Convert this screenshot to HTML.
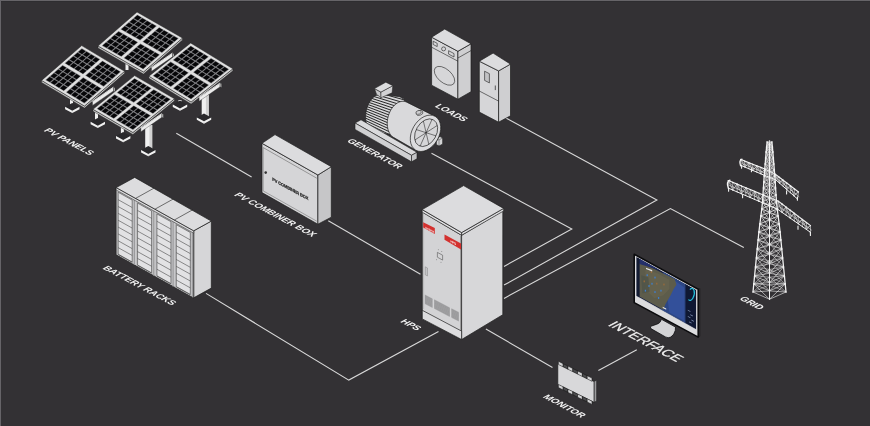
<!DOCTYPE html>
<html><head><meta charset="utf-8"><style>
html,body{margin:0;padding:0;background:#333134;width:870px;height:426px;overflow:hidden}
svg{display:block;will-change:transform}
text{font-family:"Liberation Sans",sans-serif}
</style></head><body>
<svg width="870" height="426" viewBox="0 0 870 426">
<rect width="870" height="426" fill="#333134"/>
<rect x="0" y="0" width="870" height="1" fill="#666468"/>
<rect x="0" y="0" width="1" height="426" fill="#666468"/>
<rect x="1" y="1" width="869" height="1" fill="#2e2d30"/>
<line x1="176.3" y1="133.3" x2="251.6" y2="177" stroke="#d8d8d8" stroke-width="1.1" />
<line x1="328.3" y1="220.8" x2="420.5" y2="274.2" stroke="#d8d8d8" stroke-width="1.1" />
<polyline points="206,293.4 348.8,380.1 438.5,331.4" fill="none" stroke="#d8d8d8" stroke-width="1.1" stroke-linejoin="miter" />
<polyline points="431.5,153.3 571.8,229 504,266.4" fill="none" stroke="#d8d8d8" stroke-width="1.1" stroke-linejoin="miter" />
<polyline points="505.3,117.7 656.9,199.9 504,285.1" fill="none" stroke="#d8d8d8" stroke-width="1.1" stroke-linejoin="miter" />
<polyline points="504,298.4 670.4,208.6 743.8,247.6" fill="none" stroke="#d8d8d8" stroke-width="1.1" stroke-linejoin="miter" />
<line x1="485.9" y1="329" x2="552.5" y2="367.5" stroke="#d8d8d8" stroke-width="1.1" />
<line x1="598.4" y1="370.4" x2="636.8" y2="349.7" stroke="#d8d8d8" stroke-width="1.1" />
<polygon points="125.5,60 128.5,60 128.5,70 125.5,70" fill="#f0f0f0" stroke="none" stroke-width="0" stroke-linejoin="round" />
<polygon points="98,46 143.5,72 182.5,38 182.5,40 143.5,74 98,48" fill="#c4c4c4" stroke="#1c1c1c" stroke-width="0.4" stroke-linejoin="round" />
<polygon points="137,12 182.5,38 143.5,72 98,46" fill="#e0e0e0" stroke="#1c1c1c" stroke-width="0.5" stroke-linejoin="round" />
<polygon points="137.29,14.7 156.86,25.88 140.09,40.5 120.52,29.32" fill="#808084" stroke="none" stroke-width="0" stroke-linejoin="round" />
<polygon points="137.36,15.33 141.29,17.58 137.93,20.52 133.99,18.27" fill="#060608" stroke="none" stroke-width="0" stroke-linejoin="round" />
<polygon points="133.16,18.99 137.1,21.24 133.74,24.17 129.8,21.92" fill="#060608" stroke="none" stroke-width="0" stroke-linejoin="round" />
<polygon points="128.97,22.64 132.91,24.89 129.54,27.83 125.61,25.58" fill="#060608" stroke="none" stroke-width="0" stroke-linejoin="round" />
<polygon points="124.78,26.3 128.71,28.55 125.35,31.48 121.41,29.23" fill="#060608" stroke="none" stroke-width="0" stroke-linejoin="round" />
<polygon points="142.25,18.13 146.18,20.38 142.82,23.31 138.88,21.06" fill="#060608" stroke="none" stroke-width="0" stroke-linejoin="round" />
<polygon points="138.05,21.78 141.99,24.03 138.63,26.97 134.69,24.72" fill="#060608" stroke="none" stroke-width="0" stroke-linejoin="round" />
<polygon points="133.86,25.44 137.8,27.69 134.43,30.62 130.5,28.37" fill="#060608" stroke="none" stroke-width="0" stroke-linejoin="round" />
<polygon points="129.67,29.09 133.61,31.34 130.24,34.28 126.31,32.03" fill="#060608" stroke="none" stroke-width="0" stroke-linejoin="round" />
<polygon points="147.14,20.92 151.07,23.17 147.71,26.11 143.77,23.86" fill="#060608" stroke="none" stroke-width="0" stroke-linejoin="round" />
<polygon points="142.95,24.58 146.88,26.83 143.52,29.76 139.58,27.51" fill="#060608" stroke="none" stroke-width="0" stroke-linejoin="round" />
<polygon points="138.75,28.23 142.69,30.48 139.33,33.42 135.39,31.17" fill="#060608" stroke="none" stroke-width="0" stroke-linejoin="round" />
<polygon points="134.56,31.89 138.5,34.14 135.13,37.07 131.2,34.82" fill="#060608" stroke="none" stroke-width="0" stroke-linejoin="round" />
<polygon points="152.03,23.72 155.97,25.97 152.6,28.9 148.67,26.65" fill="#060608" stroke="none" stroke-width="0" stroke-linejoin="round" />
<polygon points="147.84,27.37 151.77,29.62 148.41,32.56 144.47,30.31" fill="#060608" stroke="none" stroke-width="0" stroke-linejoin="round" />
<polygon points="143.64,31.03 147.58,33.28 144.22,36.21 140.28,33.96" fill="#060608" stroke="none" stroke-width="0" stroke-linejoin="round" />
<polygon points="139.45,34.68 143.39,36.93 140.02,39.87 136.09,37.62" fill="#060608" stroke="none" stroke-width="0" stroke-linejoin="round" />
<polygon points="118.57,31.02 138.14,42.2 121.37,56.82 101.8,45.64" fill="#808084" stroke="none" stroke-width="0" stroke-linejoin="round" />
<polygon points="118.64,31.65 122.57,33.9 119.21,36.84 115.27,34.59" fill="#060608" stroke="none" stroke-width="0" stroke-linejoin="round" />
<polygon points="114.44,35.31 118.38,37.56 115.02,40.49 111.08,38.24" fill="#060608" stroke="none" stroke-width="0" stroke-linejoin="round" />
<polygon points="110.25,38.96 114.19,41.21 110.82,44.15 106.89,41.9" fill="#060608" stroke="none" stroke-width="0" stroke-linejoin="round" />
<polygon points="106.06,42.62 109.99,44.87 106.63,47.8 102.69,45.55" fill="#060608" stroke="none" stroke-width="0" stroke-linejoin="round" />
<polygon points="123.53,34.45 127.46,36.7 124.1,39.63 120.16,37.38" fill="#060608" stroke="none" stroke-width="0" stroke-linejoin="round" />
<polygon points="119.33,38.1 123.27,40.35 119.91,43.29 115.97,41.04" fill="#060608" stroke="none" stroke-width="0" stroke-linejoin="round" />
<polygon points="115.14,41.76 119.08,44.01 115.71,46.94 111.78,44.69" fill="#060608" stroke="none" stroke-width="0" stroke-linejoin="round" />
<polygon points="110.95,45.41 114.89,47.66 111.52,50.6 107.59,48.35" fill="#060608" stroke="none" stroke-width="0" stroke-linejoin="round" />
<polygon points="128.42,37.24 132.35,39.49 128.99,42.43 125.05,40.18" fill="#060608" stroke="none" stroke-width="0" stroke-linejoin="round" />
<polygon points="124.23,40.9 128.16,43.15 124.8,46.08 120.86,43.83" fill="#060608" stroke="none" stroke-width="0" stroke-linejoin="round" />
<polygon points="120.03,44.55 123.97,46.8 120.61,49.74 116.67,47.49" fill="#060608" stroke="none" stroke-width="0" stroke-linejoin="round" />
<polygon points="115.84,48.21 119.78,50.46 116.41,53.39 112.48,51.14" fill="#060608" stroke="none" stroke-width="0" stroke-linejoin="round" />
<polygon points="133.31,40.04 137.25,42.29 133.88,45.22 129.95,42.97" fill="#060608" stroke="none" stroke-width="0" stroke-linejoin="round" />
<polygon points="129.12,43.69 133.05,45.94 129.69,48.88 125.75,46.63" fill="#060608" stroke="none" stroke-width="0" stroke-linejoin="round" />
<polygon points="124.92,47.35 128.86,49.6 125.5,52.53 121.56,50.28" fill="#060608" stroke="none" stroke-width="0" stroke-linejoin="round" />
<polygon points="120.73,51 124.67,53.25 121.3,56.19 117.37,53.94" fill="#060608" stroke="none" stroke-width="0" stroke-linejoin="round" />
<polygon points="159.13,27.18 178.7,38.36 161.93,52.98 142.36,41.8" fill="#808084" stroke="none" stroke-width="0" stroke-linejoin="round" />
<polygon points="159.2,27.81 163.13,30.06 159.77,33 155.83,30.75" fill="#060608" stroke="none" stroke-width="0" stroke-linejoin="round" />
<polygon points="155,31.47 158.94,33.72 155.58,36.65 151.64,34.4" fill="#060608" stroke="none" stroke-width="0" stroke-linejoin="round" />
<polygon points="150.81,35.12 154.75,37.37 151.38,40.31 147.45,38.06" fill="#060608" stroke="none" stroke-width="0" stroke-linejoin="round" />
<polygon points="146.62,38.78 150.55,41.03 147.19,43.96 143.25,41.71" fill="#060608" stroke="none" stroke-width="0" stroke-linejoin="round" />
<polygon points="164.09,30.61 168.02,32.86 164.66,35.79 160.72,33.54" fill="#060608" stroke="none" stroke-width="0" stroke-linejoin="round" />
<polygon points="159.89,34.26 163.83,36.51 160.47,39.45 156.53,37.2" fill="#060608" stroke="none" stroke-width="0" stroke-linejoin="round" />
<polygon points="155.7,37.92 159.64,40.17 156.27,43.1 152.34,40.85" fill="#060608" stroke="none" stroke-width="0" stroke-linejoin="round" />
<polygon points="151.51,41.57 155.45,43.82 152.08,46.76 148.15,44.51" fill="#060608" stroke="none" stroke-width="0" stroke-linejoin="round" />
<polygon points="168.98,33.4 172.91,35.65 169.55,38.59 165.61,36.34" fill="#060608" stroke="none" stroke-width="0" stroke-linejoin="round" />
<polygon points="164.79,37.06 168.72,39.31 165.36,42.24 161.42,39.99" fill="#060608" stroke="none" stroke-width="0" stroke-linejoin="round" />
<polygon points="160.59,40.71 164.53,42.96 161.17,45.9 157.23,43.65" fill="#060608" stroke="none" stroke-width="0" stroke-linejoin="round" />
<polygon points="156.4,44.37 160.34,46.62 156.97,49.55 153.04,47.3" fill="#060608" stroke="none" stroke-width="0" stroke-linejoin="round" />
<polygon points="173.87,36.2 177.81,38.45 174.44,41.38 170.51,39.13" fill="#060608" stroke="none" stroke-width="0" stroke-linejoin="round" />
<polygon points="169.68,39.85 173.61,42.1 170.25,45.04 166.31,42.79" fill="#060608" stroke="none" stroke-width="0" stroke-linejoin="round" />
<polygon points="165.48,43.51 169.42,45.76 166.06,48.69 162.12,46.44" fill="#060608" stroke="none" stroke-width="0" stroke-linejoin="round" />
<polygon points="161.29,47.16 165.23,49.41 161.86,52.35 157.93,50.1" fill="#060608" stroke="none" stroke-width="0" stroke-linejoin="round" />
<polygon points="140.41,43.5 159.98,54.68 143.21,69.3 123.64,58.12" fill="#808084" stroke="none" stroke-width="0" stroke-linejoin="round" />
<polygon points="140.48,44.13 144.41,46.38 141.05,49.32 137.11,47.07" fill="#060608" stroke="none" stroke-width="0" stroke-linejoin="round" />
<polygon points="136.28,47.79 140.22,50.04 136.86,52.97 132.92,50.72" fill="#060608" stroke="none" stroke-width="0" stroke-linejoin="round" />
<polygon points="132.09,51.44 136.03,53.69 132.66,56.63 128.73,54.38" fill="#060608" stroke="none" stroke-width="0" stroke-linejoin="round" />
<polygon points="127.9,55.1 131.83,57.35 128.47,60.28 124.53,58.03" fill="#060608" stroke="none" stroke-width="0" stroke-linejoin="round" />
<polygon points="145.37,46.93 149.3,49.18 145.94,52.11 142,49.86" fill="#060608" stroke="none" stroke-width="0" stroke-linejoin="round" />
<polygon points="141.17,50.58 145.11,52.83 141.75,55.77 137.81,53.52" fill="#060608" stroke="none" stroke-width="0" stroke-linejoin="round" />
<polygon points="136.98,54.24 140.92,56.49 137.55,59.42 133.62,57.17" fill="#060608" stroke="none" stroke-width="0" stroke-linejoin="round" />
<polygon points="132.79,57.89 136.73,60.14 133.36,63.08 129.43,60.83" fill="#060608" stroke="none" stroke-width="0" stroke-linejoin="round" />
<polygon points="150.26,49.72 154.19,51.97 150.83,54.91 146.89,52.66" fill="#060608" stroke="none" stroke-width="0" stroke-linejoin="round" />
<polygon points="146.07,53.38 150,55.63 146.64,58.56 142.7,56.31" fill="#060608" stroke="none" stroke-width="0" stroke-linejoin="round" />
<polygon points="141.87,57.03 145.81,59.28 142.45,62.22 138.51,59.97" fill="#060608" stroke="none" stroke-width="0" stroke-linejoin="round" />
<polygon points="137.68,60.69 141.62,62.94 138.25,65.87 134.32,63.62" fill="#060608" stroke="none" stroke-width="0" stroke-linejoin="round" />
<polygon points="155.15,52.52 159.09,54.77 155.72,57.7 151.79,55.45" fill="#060608" stroke="none" stroke-width="0" stroke-linejoin="round" />
<polygon points="150.96,56.17 154.89,58.42 151.53,61.36 147.59,59.11" fill="#060608" stroke="none" stroke-width="0" stroke-linejoin="round" />
<polygon points="146.76,59.83 150.7,62.08 147.34,65.01 143.4,62.76" fill="#060608" stroke="none" stroke-width="0" stroke-linejoin="round" />
<polygon points="142.57,63.48 146.51,65.73 143.14,68.67 139.21,66.42" fill="#060608" stroke="none" stroke-width="0" stroke-linejoin="round" />
<polygon points="151.5,67.5 172.5,53 172.5,56.8 151.5,71.3" fill="#ececec" stroke="#2a2a2a" stroke-width="0.35" stroke-linejoin="round" />
<line x1="151.5" y1="67.5" x2="172.5" y2="53" stroke="#f4f4f4" stroke-width="0.8" />
<polygon points="172.5,53 174,53.8 174,57.6 172.5,56.8" fill="#bdbdbd" stroke="#1c1c1c" stroke-width="0.3" stroke-linejoin="round" />
<polygon points="70,95 73,95 73,106 70,106" fill="#f0f0f0" stroke="none" stroke-width="0" stroke-linejoin="round" />
<polygon points="65.1,106.8 72.3,102.9 79.5,106.8 72.3,110.7" fill="#29282b" stroke="none" stroke-width="0" stroke-linejoin="round" />
<polygon points="65.1,106.8 72.3,110.7 79.5,106.8 79.5,109.2 72.3,113.1 65.1,109.2" fill="#f2f2f2" stroke="none" stroke-width="0" stroke-linejoin="round" />
<line x1="72.3" y1="110.7" x2="72.3" y2="113.1" stroke="#bdbdbd" stroke-width="0.5" />
<polygon points="41.6,80.4 84.5,106.1 124.6,71.3 124.6,73.3 84.5,108.1 41.6,82.4" fill="#c4c4c4" stroke="#1c1c1c" stroke-width="0.4" stroke-linejoin="round" />
<polygon points="81.7,45.6 124.6,71.3 84.5,106.1 41.6,80.4" fill="#e0e0e0" stroke="#1c1c1c" stroke-width="0.5" stroke-linejoin="round" />
<polygon points="81.83,48.32 100.27,59.37 83.03,74.34 64.58,63.29" fill="#808084" stroke="none" stroke-width="0" stroke-linejoin="round" />
<polygon points="81.88,48.97 85.55,51.16 82.07,54.18 78.4,51.99" fill="#060608" stroke="none" stroke-width="0" stroke-linejoin="round" />
<polygon points="77.57,52.71 81.24,54.9 77.76,57.92 74.09,55.73" fill="#060608" stroke="none" stroke-width="0" stroke-linejoin="round" />
<polygon points="73.26,56.45 76.93,58.65 73.45,61.67 69.78,59.47" fill="#060608" stroke="none" stroke-width="0" stroke-linejoin="round" />
<polygon points="68.95,60.19 72.62,62.39 69.14,65.41 65.47,63.21" fill="#060608" stroke="none" stroke-width="0" stroke-linejoin="round" />
<polygon points="86.49,51.73 90.16,53.93 86.68,56.95 83.01,54.75" fill="#060608" stroke="none" stroke-width="0" stroke-linejoin="round" />
<polygon points="82.18,55.47 85.85,57.67 82.37,60.69 78.7,58.49" fill="#060608" stroke="none" stroke-width="0" stroke-linejoin="round" />
<polygon points="77.87,59.21 81.54,61.41 78.06,64.43 74.39,62.23" fill="#060608" stroke="none" stroke-width="0" stroke-linejoin="round" />
<polygon points="73.56,62.95 77.23,65.15 73.75,68.17 70.08,65.97" fill="#060608" stroke="none" stroke-width="0" stroke-linejoin="round" />
<polygon points="91.11,54.49 94.77,56.69 91.29,59.71 87.63,57.51" fill="#060608" stroke="none" stroke-width="0" stroke-linejoin="round" />
<polygon points="86.8,58.23 90.46,60.43 86.98,63.45 83.32,61.25" fill="#060608" stroke="none" stroke-width="0" stroke-linejoin="round" />
<polygon points="82.48,61.97 86.15,64.17 82.67,67.19 79,64.99" fill="#060608" stroke="none" stroke-width="0" stroke-linejoin="round" />
<polygon points="78.17,65.71 81.84,67.91 78.36,70.93 74.69,68.73" fill="#060608" stroke="none" stroke-width="0" stroke-linejoin="round" />
<polygon points="95.72,57.25 99.39,59.45 95.91,62.47 92.24,60.27" fill="#060608" stroke="none" stroke-width="0" stroke-linejoin="round" />
<polygon points="91.41,60.99 95.08,63.19 91.6,66.21 87.93,64.01" fill="#060608" stroke="none" stroke-width="0" stroke-linejoin="round" />
<polygon points="87.1,64.74 90.76,66.93 87.28,69.95 83.62,67.76" fill="#060608" stroke="none" stroke-width="0" stroke-linejoin="round" />
<polygon points="82.79,68.48 86.45,70.67 82.97,73.69 79.31,71.5" fill="#060608" stroke="none" stroke-width="0" stroke-linejoin="round" />
<polygon points="62.58,65.03 81.03,76.08 63.78,91.04 45.34,79.99" fill="#808084" stroke="none" stroke-width="0" stroke-linejoin="round" />
<polygon points="62.63,65.67 66.3,67.87 62.82,70.89 59.15,68.69" fill="#060608" stroke="none" stroke-width="0" stroke-linejoin="round" />
<polygon points="58.32,69.41 61.99,71.61 58.51,74.63 54.84,72.43" fill="#060608" stroke="none" stroke-width="0" stroke-linejoin="round" />
<polygon points="54.01,73.15 57.68,75.35 54.2,78.37 50.53,76.17" fill="#060608" stroke="none" stroke-width="0" stroke-linejoin="round" />
<polygon points="49.7,76.89 53.37,79.09 49.89,82.11 46.22,79.91" fill="#060608" stroke="none" stroke-width="0" stroke-linejoin="round" />
<polygon points="67.25,68.43 70.91,70.63 67.43,73.65 63.77,71.45" fill="#060608" stroke="none" stroke-width="0" stroke-linejoin="round" />
<polygon points="62.94,72.17 66.6,74.37 63.12,77.39 59.46,75.19" fill="#060608" stroke="none" stroke-width="0" stroke-linejoin="round" />
<polygon points="58.62,75.91 62.29,78.11 58.81,81.13 55.14,78.93" fill="#060608" stroke="none" stroke-width="0" stroke-linejoin="round" />
<polygon points="54.31,79.66 57.98,81.85 54.5,84.87 50.83,82.68" fill="#060608" stroke="none" stroke-width="0" stroke-linejoin="round" />
<polygon points="71.86,71.2 75.53,73.39 72.05,76.41 68.38,74.22" fill="#060608" stroke="none" stroke-width="0" stroke-linejoin="round" />
<polygon points="67.55,74.94 71.22,77.13 67.74,80.15 64.07,77.96" fill="#060608" stroke="none" stroke-width="0" stroke-linejoin="round" />
<polygon points="63.24,78.68 66.9,80.87 63.42,83.89 59.76,81.7" fill="#060608" stroke="none" stroke-width="0" stroke-linejoin="round" />
<polygon points="58.93,82.42 62.59,84.62 59.11,87.64 55.45,85.44" fill="#060608" stroke="none" stroke-width="0" stroke-linejoin="round" />
<polygon points="76.47,73.96 80.14,76.16 76.66,79.18 72.99,76.98" fill="#060608" stroke="none" stroke-width="0" stroke-linejoin="round" />
<polygon points="72.16,77.7 75.83,79.9 72.35,82.92 68.68,80.72" fill="#060608" stroke="none" stroke-width="0" stroke-linejoin="round" />
<polygon points="67.85,81.44 71.52,83.64 68.04,86.66 64.37,84.46" fill="#060608" stroke="none" stroke-width="0" stroke-linejoin="round" />
<polygon points="63.54,85.18 67.21,87.38 63.73,90.4 60.06,88.2" fill="#060608" stroke="none" stroke-width="0" stroke-linejoin="round" />
<polygon points="102.42,60.66 120.86,71.71 103.62,86.67 85.17,75.62" fill="#808084" stroke="none" stroke-width="0" stroke-linejoin="round" />
<polygon points="102.47,61.3 106.14,63.5 102.66,66.52 98.99,64.32" fill="#060608" stroke="none" stroke-width="0" stroke-linejoin="round" />
<polygon points="98.16,65.04 101.83,67.24 98.35,70.26 94.68,68.06" fill="#060608" stroke="none" stroke-width="0" stroke-linejoin="round" />
<polygon points="93.85,68.78 97.52,70.98 94.04,74 90.37,71.8" fill="#060608" stroke="none" stroke-width="0" stroke-linejoin="round" />
<polygon points="89.54,72.52 93.21,74.72 89.73,77.74 86.06,75.54" fill="#060608" stroke="none" stroke-width="0" stroke-linejoin="round" />
<polygon points="107.09,64.06 110.75,66.26 107.27,69.28 103.61,67.08" fill="#060608" stroke="none" stroke-width="0" stroke-linejoin="round" />
<polygon points="102.78,67.81 106.44,70 102.96,73.02 99.3,70.83" fill="#060608" stroke="none" stroke-width="0" stroke-linejoin="round" />
<polygon points="98.46,71.55 102.13,73.74 98.65,76.76 94.98,74.57" fill="#060608" stroke="none" stroke-width="0" stroke-linejoin="round" />
<polygon points="94.15,75.29 97.82,77.48 94.34,80.5 90.67,78.31" fill="#060608" stroke="none" stroke-width="0" stroke-linejoin="round" />
<polygon points="111.7,66.83 115.37,69.02 111.89,72.04 108.22,69.85" fill="#060608" stroke="none" stroke-width="0" stroke-linejoin="round" />
<polygon points="107.39,70.57 111.06,72.77 107.58,75.79 103.91,73.59" fill="#060608" stroke="none" stroke-width="0" stroke-linejoin="round" />
<polygon points="103.08,74.31 106.74,76.51 103.26,79.53 99.6,77.33" fill="#060608" stroke="none" stroke-width="0" stroke-linejoin="round" />
<polygon points="98.77,78.05 102.43,80.25 98.95,83.27 95.29,81.07" fill="#060608" stroke="none" stroke-width="0" stroke-linejoin="round" />
<polygon points="116.31,69.59 119.98,71.79 116.5,74.81 112.83,72.61" fill="#060608" stroke="none" stroke-width="0" stroke-linejoin="round" />
<polygon points="112,73.33 115.67,75.53 112.19,78.55 108.52,76.35" fill="#060608" stroke="none" stroke-width="0" stroke-linejoin="round" />
<polygon points="107.69,77.07 111.36,79.27 107.88,82.29 104.21,80.09" fill="#060608" stroke="none" stroke-width="0" stroke-linejoin="round" />
<polygon points="103.38,80.81 107.05,83.01 103.57,86.03 99.9,83.83" fill="#060608" stroke="none" stroke-width="0" stroke-linejoin="round" />
<polygon points="83.17,77.36 101.62,88.41 84.37,103.38 65.93,92.33" fill="#808084" stroke="none" stroke-width="0" stroke-linejoin="round" />
<polygon points="83.23,78.01 86.89,80.2 83.41,83.22 79.75,81.03" fill="#060608" stroke="none" stroke-width="0" stroke-linejoin="round" />
<polygon points="78.92,81.75 82.58,83.94 79.1,86.96 75.44,84.77" fill="#060608" stroke="none" stroke-width="0" stroke-linejoin="round" />
<polygon points="74.6,85.49 78.27,87.69 74.79,90.71 71.12,88.51" fill="#060608" stroke="none" stroke-width="0" stroke-linejoin="round" />
<polygon points="70.29,89.23 73.96,91.43 70.48,94.45 66.81,92.25" fill="#060608" stroke="none" stroke-width="0" stroke-linejoin="round" />
<polygon points="87.84,80.77 91.51,82.97 88.03,85.99 84.36,83.79" fill="#060608" stroke="none" stroke-width="0" stroke-linejoin="round" />
<polygon points="83.53,84.51 87.2,86.71 83.72,89.73 80.05,87.53" fill="#060608" stroke="none" stroke-width="0" stroke-linejoin="round" />
<polygon points="79.22,88.25 82.88,90.45 79.4,93.47 75.74,91.27" fill="#060608" stroke="none" stroke-width="0" stroke-linejoin="round" />
<polygon points="74.91,91.99 78.57,94.19 75.09,97.21 71.43,95.01" fill="#060608" stroke="none" stroke-width="0" stroke-linejoin="round" />
<polygon points="92.45,83.53 96.12,85.73 92.64,88.75 88.97,86.55" fill="#060608" stroke="none" stroke-width="0" stroke-linejoin="round" />
<polygon points="88.14,87.27 91.81,89.47 88.33,92.49 84.66,90.29" fill="#060608" stroke="none" stroke-width="0" stroke-linejoin="round" />
<polygon points="83.83,91.01 87.5,93.21 84.02,96.23 80.35,94.03" fill="#060608" stroke="none" stroke-width="0" stroke-linejoin="round" />
<polygon points="79.52,94.75 83.19,96.95 79.71,99.97 76.04,97.77" fill="#060608" stroke="none" stroke-width="0" stroke-linejoin="round" />
<polygon points="97.06,86.29 100.73,88.49 97.25,91.51 93.58,89.31" fill="#060608" stroke="none" stroke-width="0" stroke-linejoin="round" />
<polygon points="92.75,90.03 96.42,92.23 92.94,95.25 89.27,93.05" fill="#060608" stroke="none" stroke-width="0" stroke-linejoin="round" />
<polygon points="88.44,93.78 92.11,95.97 88.63,98.99 84.96,96.8" fill="#060608" stroke="none" stroke-width="0" stroke-linejoin="round" />
<polygon points="84.13,97.52 87.8,99.71 84.32,102.73 80.65,100.54" fill="#060608" stroke="none" stroke-width="0" stroke-linejoin="round" />
<polygon points="92.5,101.6 113.5,87.1 113.5,90.9 92.5,105.4" fill="#ececec" stroke="#2a2a2a" stroke-width="0.35" stroke-linejoin="round" />
<line x1="92.5" y1="101.6" x2="113.5" y2="87.1" stroke="#f4f4f4" stroke-width="0.8" />
<polygon points="113.5,87.1 115,87.9 115,91.7 113.5,90.9" fill="#bdbdbd" stroke="#1c1c1c" stroke-width="0.3" stroke-linejoin="round" />
<polygon points="178.5,100 181.5,100 181.5,104 178.5,104" fill="#f0f0f0" stroke="none" stroke-width="0" stroke-linejoin="round" />
<polygon points="172.8,104.5 180,100.6 187.2,104.5 180,108.4" fill="#29282b" stroke="none" stroke-width="0" stroke-linejoin="round" />
<polygon points="172.8,104.5 180,108.4 187.2,104.5 187.2,106.9 180,110.8 172.8,106.9" fill="#f2f2f2" stroke="none" stroke-width="0" stroke-linejoin="round" />
<line x1="180" y1="108.4" x2="180" y2="110.8" stroke="#bdbdbd" stroke-width="0.5" />
<polygon points="201.7,95 208.7,95 208.7,118 201.7,118" fill="#f0f0f0" stroke="none" stroke-width="0" stroke-linejoin="round" />
<polygon points="205.9,95 208.7,95 208.7,118 205.9,118" fill="#d2d2d2" stroke="none" stroke-width="0" stroke-linejoin="round" />
<polygon points="196.8,117.4 204,113.5 211.2,117.4 204,121.3" fill="#29282b" stroke="none" stroke-width="0" stroke-linejoin="round" />
<polygon points="196.8,117.4 204,121.3 211.2,117.4 211.2,119.8 204,123.7 196.8,119.8" fill="#f2f2f2" stroke="none" stroke-width="0" stroke-linejoin="round" />
<line x1="204" y1="121.3" x2="204" y2="123.7" stroke="#bdbdbd" stroke-width="0.5" />
<polygon points="148.9,76.2 191.1,102 232.9,68.8 232.9,70.8 191.1,104 148.9,78.2" fill="#c4c4c4" stroke="#1c1c1c" stroke-width="0.4" stroke-linejoin="round" />
<polygon points="190.7,43 232.9,68.8 191.1,102 148.9,76.2" fill="#e0e0e0" stroke="#1c1c1c" stroke-width="0.5" stroke-linejoin="round" />
<polygon points="190.72,45.66 208.86,56.75 190.89,71.02 172.74,59.93" fill="#808084" stroke="none" stroke-width="0" stroke-linejoin="round" />
<polygon points="190.76,46.28 194.35,48.48 190.72,51.37 187.12,49.17" fill="#060608" stroke="none" stroke-width="0" stroke-linejoin="round" />
<polygon points="186.26,49.85 189.86,52.05 186.23,54.94 182.63,52.74" fill="#060608" stroke="none" stroke-width="0" stroke-linejoin="round" />
<polygon points="181.77,53.42 185.37,55.62 181.74,58.51 178.14,56.31" fill="#060608" stroke="none" stroke-width="0" stroke-linejoin="round" />
<polygon points="177.28,56.99 180.87,59.19 177.24,62.08 173.64,59.88" fill="#060608" stroke="none" stroke-width="0" stroke-linejoin="round" />
<polygon points="195.29,49.06 198.89,51.26 195.26,54.14 191.66,51.94" fill="#060608" stroke="none" stroke-width="0" stroke-linejoin="round" />
<polygon points="190.8,52.63 194.4,54.83 190.77,57.71 187.17,55.51" fill="#060608" stroke="none" stroke-width="0" stroke-linejoin="round" />
<polygon points="186.31,56.2 189.9,58.4 186.27,61.28 182.67,59.08" fill="#060608" stroke="none" stroke-width="0" stroke-linejoin="round" />
<polygon points="181.81,59.76 185.41,61.96 181.78,64.85 178.18,62.65" fill="#060608" stroke="none" stroke-width="0" stroke-linejoin="round" />
<polygon points="199.83,51.83 203.43,54.03 199.8,56.92 196.2,54.72" fill="#060608" stroke="none" stroke-width="0" stroke-linejoin="round" />
<polygon points="195.34,55.4 198.93,57.6 195.3,60.48 191.7,58.28" fill="#060608" stroke="none" stroke-width="0" stroke-linejoin="round" />
<polygon points="190.84,58.97 194.44,61.17 190.81,64.05 187.21,61.85" fill="#060608" stroke="none" stroke-width="0" stroke-linejoin="round" />
<polygon points="186.35,62.54 189.95,64.74 186.31,67.62 182.72,65.42" fill="#060608" stroke="none" stroke-width="0" stroke-linejoin="round" />
<polygon points="204.37,54.6 207.96,56.8 204.33,59.69 200.73,57.49" fill="#060608" stroke="none" stroke-width="0" stroke-linejoin="round" />
<polygon points="199.87,58.17 203.47,60.37 199.84,63.26 196.24,61.06" fill="#060608" stroke="none" stroke-width="0" stroke-linejoin="round" />
<polygon points="195.38,61.74 198.98,63.94 195.34,66.83 191.75,64.63" fill="#060608" stroke="none" stroke-width="0" stroke-linejoin="round" />
<polygon points="190.89,65.31 194.48,67.51 190.85,70.4 187.25,68.2" fill="#060608" stroke="none" stroke-width="0" stroke-linejoin="round" />
<polygon points="170.65,61.59 188.8,72.69 170.83,86.96 152.68,75.87" fill="#808084" stroke="none" stroke-width="0" stroke-linejoin="round" />
<polygon points="170.69,62.22 174.29,64.42 170.66,67.3 167.06,65.1" fill="#060608" stroke="none" stroke-width="0" stroke-linejoin="round" />
<polygon points="166.2,65.79 169.8,67.99 166.16,70.87 162.57,68.67" fill="#060608" stroke="none" stroke-width="0" stroke-linejoin="round" />
<polygon points="161.71,69.36 165.3,71.56 161.67,74.44 158.07,72.24" fill="#060608" stroke="none" stroke-width="0" stroke-linejoin="round" />
<polygon points="157.21,72.93 160.81,75.13 157.18,78.01 153.58,75.81" fill="#060608" stroke="none" stroke-width="0" stroke-linejoin="round" />
<polygon points="175.23,64.99 178.83,67.19 175.19,70.08 171.6,67.88" fill="#060608" stroke="none" stroke-width="0" stroke-linejoin="round" />
<polygon points="170.74,68.56 174.33,70.76 170.7,73.65 167.1,71.45" fill="#060608" stroke="none" stroke-width="0" stroke-linejoin="round" />
<polygon points="166.24,72.13 169.84,74.33 166.21,77.22 162.61,75.02" fill="#060608" stroke="none" stroke-width="0" stroke-linejoin="round" />
<polygon points="161.75,75.7 165.35,77.9 161.71,80.79 158.12,78.59" fill="#060608" stroke="none" stroke-width="0" stroke-linejoin="round" />
<polygon points="179.77,67.77 183.36,69.97 179.73,72.85 176.13,70.65" fill="#060608" stroke="none" stroke-width="0" stroke-linejoin="round" />
<polygon points="175.27,71.34 178.87,73.54 175.24,76.42 171.64,74.22" fill="#060608" stroke="none" stroke-width="0" stroke-linejoin="round" />
<polygon points="170.78,74.9 174.38,77.1 170.74,79.99 167.15,77.79" fill="#060608" stroke="none" stroke-width="0" stroke-linejoin="round" />
<polygon points="166.29,78.47 169.88,80.67 166.25,83.56 162.65,81.36" fill="#060608" stroke="none" stroke-width="0" stroke-linejoin="round" />
<polygon points="184.3,70.54 187.9,72.74 184.27,75.63 180.67,73.43" fill="#060608" stroke="none" stroke-width="0" stroke-linejoin="round" />
<polygon points="179.81,74.11 183.41,76.31 179.77,79.19 176.18,76.99" fill="#060608" stroke="none" stroke-width="0" stroke-linejoin="round" />
<polygon points="175.32,77.68 178.91,79.88 175.28,82.76 171.68,80.56" fill="#060608" stroke="none" stroke-width="0" stroke-linejoin="round" />
<polygon points="170.82,81.25 174.42,83.45 170.79,86.33 167.19,84.13" fill="#060608" stroke="none" stroke-width="0" stroke-linejoin="round" />
<polygon points="210.97,58.04 229.12,69.13 211.15,83.41 193,72.31" fill="#808084" stroke="none" stroke-width="0" stroke-linejoin="round" />
<polygon points="211.01,58.67 214.61,60.87 210.98,63.75 207.38,61.55" fill="#060608" stroke="none" stroke-width="0" stroke-linejoin="round" />
<polygon points="206.52,62.24 210.12,64.44 206.48,67.32 202.89,65.12" fill="#060608" stroke="none" stroke-width="0" stroke-linejoin="round" />
<polygon points="202.03,65.81 205.62,68.01 201.99,70.89 198.39,68.69" fill="#060608" stroke="none" stroke-width="0" stroke-linejoin="round" />
<polygon points="197.53,69.37 201.13,71.57 197.5,74.46 193.9,72.26" fill="#060608" stroke="none" stroke-width="0" stroke-linejoin="round" />
<polygon points="215.55,61.44 219.15,63.64 215.51,66.53 211.92,64.33" fill="#060608" stroke="none" stroke-width="0" stroke-linejoin="round" />
<polygon points="211.06,65.01 214.65,67.21 211.02,70.1 207.42,67.9" fill="#060608" stroke="none" stroke-width="0" stroke-linejoin="round" />
<polygon points="206.56,68.58 210.16,70.78 206.53,73.66 202.93,71.46" fill="#060608" stroke="none" stroke-width="0" stroke-linejoin="round" />
<polygon points="202.07,72.15 205.67,74.35 202.03,77.23 198.44,75.03" fill="#060608" stroke="none" stroke-width="0" stroke-linejoin="round" />
<polygon points="220.09,64.21 223.68,66.41 220.05,69.3 216.45,67.1" fill="#060608" stroke="none" stroke-width="0" stroke-linejoin="round" />
<polygon points="215.59,67.78 219.19,69.98 215.56,72.87 211.96,70.67" fill="#060608" stroke="none" stroke-width="0" stroke-linejoin="round" />
<polygon points="211.1,71.35 214.7,73.55 211.06,76.44 207.47,74.24" fill="#060608" stroke="none" stroke-width="0" stroke-linejoin="round" />
<polygon points="206.61,74.92 210.2,77.12 206.57,80.01 202.97,77.81" fill="#060608" stroke="none" stroke-width="0" stroke-linejoin="round" />
<polygon points="224.62,66.99 228.22,69.19 224.59,72.07 220.99,69.87" fill="#060608" stroke="none" stroke-width="0" stroke-linejoin="round" />
<polygon points="220.13,70.56 223.73,72.76 220.09,75.64 216.5,73.44" fill="#060608" stroke="none" stroke-width="0" stroke-linejoin="round" />
<polygon points="215.64,74.13 219.23,76.33 215.6,79.21 212,77.01" fill="#060608" stroke="none" stroke-width="0" stroke-linejoin="round" />
<polygon points="211.14,77.7 214.74,79.9 211.11,82.78 207.51,80.58" fill="#060608" stroke="none" stroke-width="0" stroke-linejoin="round" />
<polygon points="190.91,73.98 209.06,85.07 191.08,99.34 172.94,88.25" fill="#808084" stroke="none" stroke-width="0" stroke-linejoin="round" />
<polygon points="190.95,74.6 194.55,76.8 190.91,79.69 187.32,77.49" fill="#060608" stroke="none" stroke-width="0" stroke-linejoin="round" />
<polygon points="186.46,78.17 190.05,80.37 186.42,83.26 182.82,81.06" fill="#060608" stroke="none" stroke-width="0" stroke-linejoin="round" />
<polygon points="181.96,81.74 185.56,83.94 181.93,86.83 178.33,84.63" fill="#060608" stroke="none" stroke-width="0" stroke-linejoin="round" />
<polygon points="177.47,85.31 181.07,87.51 177.43,90.4 173.84,88.2" fill="#060608" stroke="none" stroke-width="0" stroke-linejoin="round" />
<polygon points="195.49,77.38 199.08,79.58 195.45,82.46 191.85,80.26" fill="#060608" stroke="none" stroke-width="0" stroke-linejoin="round" />
<polygon points="190.99,80.95 194.59,83.15 190.96,86.03 187.36,83.83" fill="#060608" stroke="none" stroke-width="0" stroke-linejoin="round" />
<polygon points="186.5,84.52 190.1,86.72 186.46,89.6 182.87,87.4" fill="#060608" stroke="none" stroke-width="0" stroke-linejoin="round" />
<polygon points="182,88.08 185.6,90.28 181.97,93.17 178.37,90.97" fill="#060608" stroke="none" stroke-width="0" stroke-linejoin="round" />
<polygon points="200.02,80.15 203.62,82.35 199.99,85.24 196.39,83.04" fill="#060608" stroke="none" stroke-width="0" stroke-linejoin="round" />
<polygon points="195.53,83.72 199.13,85.92 195.49,88.8 191.9,86.6" fill="#060608" stroke="none" stroke-width="0" stroke-linejoin="round" />
<polygon points="191.03,87.29 194.63,89.49 191,92.37 187.4,90.17" fill="#060608" stroke="none" stroke-width="0" stroke-linejoin="round" />
<polygon points="186.54,90.86 190.14,93.06 186.51,95.94 182.91,93.74" fill="#060608" stroke="none" stroke-width="0" stroke-linejoin="round" />
<polygon points="204.56,82.92 208.16,85.12 204.52,88.01 200.93,85.81" fill="#060608" stroke="none" stroke-width="0" stroke-linejoin="round" />
<polygon points="200.06,86.49 203.66,88.69 200.03,91.58 196.43,89.38" fill="#060608" stroke="none" stroke-width="0" stroke-linejoin="round" />
<polygon points="195.57,90.06 199.17,92.26 195.54,95.15 191.94,92.95" fill="#060608" stroke="none" stroke-width="0" stroke-linejoin="round" />
<polygon points="191.08,93.63 194.68,95.83 191.04,98.72 187.45,96.52" fill="#060608" stroke="none" stroke-width="0" stroke-linejoin="round" />
<polygon points="199.1,97.5 220.1,83 220.1,86.8 199.1,101.3" fill="#ececec" stroke="#2a2a2a" stroke-width="0.35" stroke-linejoin="round" />
<line x1="199.1" y1="97.5" x2="220.1" y2="83" stroke="#f4f4f4" stroke-width="0.8" />
<polygon points="220.1,83 221.6,83.8 221.6,87.6 220.1,86.8" fill="#bdbdbd" stroke="#1c1c1c" stroke-width="0.3" stroke-linejoin="round" />
<polygon points="95,112 98,112 98,121 95,121" fill="#f0f0f0" stroke="none" stroke-width="0" stroke-linejoin="round" />
<polygon points="90.6,121.8 97.8,117.9 105,121.8 97.8,125.7" fill="#29282b" stroke="none" stroke-width="0" stroke-linejoin="round" />
<polygon points="90.6,121.8 97.8,125.7 105,121.8 105,124.2 97.8,128.1 90.6,124.2" fill="#f2f2f2" stroke="none" stroke-width="0" stroke-linejoin="round" />
<line x1="97.8" y1="125.7" x2="97.8" y2="128.1" stroke="#bdbdbd" stroke-width="0.5" />
<polygon points="120.9,126 123.9,126 123.9,135 120.9,135" fill="#f0f0f0" stroke="none" stroke-width="0" stroke-linejoin="round" />
<polygon points="116,136 123.2,132.1 130.4,136 123.2,139.9" fill="#29282b" stroke="none" stroke-width="0" stroke-linejoin="round" />
<polygon points="116,136 123.2,139.9 130.4,136 130.4,138.4 123.2,142.3 116,138.4" fill="#f2f2f2" stroke="none" stroke-width="0" stroke-linejoin="round" />
<line x1="123.2" y1="139.9" x2="123.2" y2="142.3" stroke="#bdbdbd" stroke-width="0.5" />
<polygon points="145.2,125 152.2,125 152.2,149 145.2,149" fill="#f0f0f0" stroke="none" stroke-width="0" stroke-linejoin="round" />
<polygon points="149.4,125 152.2,125 152.2,149 149.4,149" fill="#d2d2d2" stroke="none" stroke-width="0" stroke-linejoin="round" />
<polygon points="141.1,150 148.3,146.1 155.5,150 148.3,153.9" fill="#29282b" stroke="none" stroke-width="0" stroke-linejoin="round" />
<polygon points="141.1,150 148.3,153.9 155.5,150 155.5,152.4 148.3,156.3 141.1,152.4" fill="#f2f2f2" stroke="none" stroke-width="0" stroke-linejoin="round" />
<line x1="148.3" y1="153.9" x2="148.3" y2="156.3" stroke="#bdbdbd" stroke-width="0.5" />
<polygon points="93,109.3 132.9,132.5 174.5,98.8 174.5,100.8 132.9,134.5 93,111.3" fill="#c4c4c4" stroke="#1c1c1c" stroke-width="0.4" stroke-linejoin="round" />
<polygon points="134.6,75.6 174.5,98.8 132.9,132.5 93,109.3" fill="#e0e0e0" stroke="#1c1c1c" stroke-width="0.5" stroke-linejoin="round" />
<polygon points="134.52,78.16 151.68,88.14 133.79,102.63 116.64,92.65" fill="#808084" stroke="none" stroke-width="0" stroke-linejoin="round" />
<polygon points="134.57,78.78 137.91,80.72 134.29,83.65 130.95,81.71" fill="#060608" stroke="none" stroke-width="0" stroke-linejoin="round" />
<polygon points="130.1,82.41 133.44,84.35 129.82,87.28 126.48,85.34" fill="#060608" stroke="none" stroke-width="0" stroke-linejoin="round" />
<polygon points="125.63,86.03 128.97,87.97 125.35,90.9 122.01,88.96" fill="#060608" stroke="none" stroke-width="0" stroke-linejoin="round" />
<polygon points="121.16,89.65 124.49,91.59 120.88,94.52 117.54,92.58" fill="#060608" stroke="none" stroke-width="0" stroke-linejoin="round" />
<polygon points="138.86,81.28 142.2,83.22 138.58,86.15 135.24,84.21" fill="#060608" stroke="none" stroke-width="0" stroke-linejoin="round" />
<polygon points="134.39,84.9 137.73,86.84 134.11,89.77 130.77,87.83" fill="#060608" stroke="none" stroke-width="0" stroke-linejoin="round" />
<polygon points="129.92,88.52 133.26,90.46 129.64,93.39 126.3,91.45" fill="#060608" stroke="none" stroke-width="0" stroke-linejoin="round" />
<polygon points="125.44,92.15 128.78,94.09 125.17,97.02 121.83,95.08" fill="#060608" stroke="none" stroke-width="0" stroke-linejoin="round" />
<polygon points="143.15,83.77 146.49,85.71 142.87,88.64 139.53,86.7" fill="#060608" stroke="none" stroke-width="0" stroke-linejoin="round" />
<polygon points="138.68,87.39 142.02,89.33 138.4,92.27 135.06,90.32" fill="#060608" stroke="none" stroke-width="0" stroke-linejoin="round" />
<polygon points="134.21,91.02 137.54,92.96 133.93,95.89 130.59,93.95" fill="#060608" stroke="none" stroke-width="0" stroke-linejoin="round" />
<polygon points="129.73,94.64 133.07,96.58 129.46,99.51 126.12,97.57" fill="#060608" stroke="none" stroke-width="0" stroke-linejoin="round" />
<polygon points="147.44,86.27 150.78,88.21 147.16,91.14 143.82,89.2" fill="#060608" stroke="none" stroke-width="0" stroke-linejoin="round" />
<polygon points="142.97,89.89 146.31,91.83 142.69,94.76 139.35,92.82" fill="#060608" stroke="none" stroke-width="0" stroke-linejoin="round" />
<polygon points="138.5,93.51 141.83,95.45 138.22,98.38 134.88,96.44" fill="#060608" stroke="none" stroke-width="0" stroke-linejoin="round" />
<polygon points="134.02,97.13 137.36,99.07 133.74,102 130.41,100.06" fill="#060608" stroke="none" stroke-width="0" stroke-linejoin="round" />
<polygon points="114.56,94.34 131.71,104.31 113.82,118.8 96.67,108.83" fill="#808084" stroke="none" stroke-width="0" stroke-linejoin="round" />
<polygon points="114.6,94.96 117.94,96.9 114.32,99.83 110.99,97.89" fill="#060608" stroke="none" stroke-width="0" stroke-linejoin="round" />
<polygon points="110.13,98.58 113.47,100.52 109.85,103.45 106.51,101.51" fill="#060608" stroke="none" stroke-width="0" stroke-linejoin="round" />
<polygon points="105.66,102.2 109,104.15 105.38,107.08 102.04,105.14" fill="#060608" stroke="none" stroke-width="0" stroke-linejoin="round" />
<polygon points="101.19,105.83 104.53,107.77 100.91,110.7 97.57,108.76" fill="#060608" stroke="none" stroke-width="0" stroke-linejoin="round" />
<polygon points="118.89,97.45 122.23,99.39 118.61,102.32 115.28,100.38" fill="#060608" stroke="none" stroke-width="0" stroke-linejoin="round" />
<polygon points="114.42,101.08 117.76,103.02 114.14,105.95 110.8,104.01" fill="#060608" stroke="none" stroke-width="0" stroke-linejoin="round" />
<polygon points="109.95,104.7 113.29,106.64 109.67,109.57 106.33,107.63" fill="#060608" stroke="none" stroke-width="0" stroke-linejoin="round" />
<polygon points="105.48,108.32 108.82,110.26 105.2,113.19 101.86,111.25" fill="#060608" stroke="none" stroke-width="0" stroke-linejoin="round" />
<polygon points="123.18,99.95 126.52,101.89 122.9,104.82 119.56,102.88" fill="#060608" stroke="none" stroke-width="0" stroke-linejoin="round" />
<polygon points="118.71,103.57 122.05,105.51 118.43,108.44 115.09,106.5" fill="#060608" stroke="none" stroke-width="0" stroke-linejoin="round" />
<polygon points="114.24,107.19 117.58,109.13 113.96,112.06 110.62,110.12" fill="#060608" stroke="none" stroke-width="0" stroke-linejoin="round" />
<polygon points="109.77,110.82 113.1,112.76 109.49,115.69 106.15,113.75" fill="#060608" stroke="none" stroke-width="0" stroke-linejoin="round" />
<polygon points="127.47,102.44 130.81,104.38 127.19,107.31 123.85,105.37" fill="#060608" stroke="none" stroke-width="0" stroke-linejoin="round" />
<polygon points="123,106.06 126.34,108 122.72,110.94 119.38,108.99" fill="#060608" stroke="none" stroke-width="0" stroke-linejoin="round" />
<polygon points="118.53,109.69 121.87,111.63 118.25,114.56 114.91,112.62" fill="#060608" stroke="none" stroke-width="0" stroke-linejoin="round" />
<polygon points="114.06,113.31 117.39,115.25 113.78,118.18 110.44,116.24" fill="#060608" stroke="none" stroke-width="0" stroke-linejoin="round" />
<polygon points="153.68,89.3 170.83,99.27 152.94,113.76 135.79,103.79" fill="#808084" stroke="none" stroke-width="0" stroke-linejoin="round" />
<polygon points="153.72,89.92 157.06,91.86 153.44,94.79 150.11,92.85" fill="#060608" stroke="none" stroke-width="0" stroke-linejoin="round" />
<polygon points="149.25,93.54 152.59,95.48 148.97,98.41 145.63,96.47" fill="#060608" stroke="none" stroke-width="0" stroke-linejoin="round" />
<polygon points="144.78,97.16 148.12,99.11 144.5,102.04 141.16,100.1" fill="#060608" stroke="none" stroke-width="0" stroke-linejoin="round" />
<polygon points="140.31,100.79 143.65,102.73 140.03,105.66 136.69,103.72" fill="#060608" stroke="none" stroke-width="0" stroke-linejoin="round" />
<polygon points="158.01,92.41 161.35,94.35 157.73,97.28 154.4,95.34" fill="#060608" stroke="none" stroke-width="0" stroke-linejoin="round" />
<polygon points="153.54,96.04 156.88,97.98 153.26,100.91 149.92,98.97" fill="#060608" stroke="none" stroke-width="0" stroke-linejoin="round" />
<polygon points="149.07,99.66 152.41,101.6 148.79,104.53 145.45,102.59" fill="#060608" stroke="none" stroke-width="0" stroke-linejoin="round" />
<polygon points="144.6,103.28 147.94,105.22 144.32,108.15 140.98,106.21" fill="#060608" stroke="none" stroke-width="0" stroke-linejoin="round" />
<polygon points="162.3,94.91 165.64,96.85 162.02,99.78 158.68,97.84" fill="#060608" stroke="none" stroke-width="0" stroke-linejoin="round" />
<polygon points="157.83,98.53 161.17,100.47 157.55,103.4 154.21,101.46" fill="#060608" stroke="none" stroke-width="0" stroke-linejoin="round" />
<polygon points="153.36,102.15 156.7,104.09 153.08,107.02 149.74,105.08" fill="#060608" stroke="none" stroke-width="0" stroke-linejoin="round" />
<polygon points="148.89,105.78 152.22,107.72 148.61,110.65 145.27,108.71" fill="#060608" stroke="none" stroke-width="0" stroke-linejoin="round" />
<polygon points="166.59,97.4 169.93,99.34 166.31,102.27 162.97,100.33" fill="#060608" stroke="none" stroke-width="0" stroke-linejoin="round" />
<polygon points="162.12,101.02 165.46,102.96 161.84,105.9 158.5,103.95" fill="#060608" stroke="none" stroke-width="0" stroke-linejoin="round" />
<polygon points="157.65,104.65 160.99,106.59 157.37,109.52 154.03,107.58" fill="#060608" stroke="none" stroke-width="0" stroke-linejoin="round" />
<polygon points="153.18,108.27 156.51,110.21 152.9,113.14 149.56,111.2" fill="#060608" stroke="none" stroke-width="0" stroke-linejoin="round" />
<polygon points="133.71,105.47 150.86,115.45 132.98,129.94 115.82,119.96" fill="#808084" stroke="none" stroke-width="0" stroke-linejoin="round" />
<polygon points="133.76,106.1 137.09,108.04 133.48,110.97 130.14,109.03" fill="#060608" stroke="none" stroke-width="0" stroke-linejoin="round" />
<polygon points="129.28,109.72 132.62,111.66 129,114.59 125.67,112.65" fill="#060608" stroke="none" stroke-width="0" stroke-linejoin="round" />
<polygon points="124.81,113.34 128.15,115.28 124.53,118.21 121.19,116.27" fill="#060608" stroke="none" stroke-width="0" stroke-linejoin="round" />
<polygon points="120.34,116.96 123.68,118.9 120.06,121.83 116.72,119.89" fill="#060608" stroke="none" stroke-width="0" stroke-linejoin="round" />
<polygon points="138.04,108.59 141.38,110.53 137.77,113.46 134.43,111.52" fill="#060608" stroke="none" stroke-width="0" stroke-linejoin="round" />
<polygon points="133.57,112.21 136.91,114.15 133.29,117.08 129.96,115.14" fill="#060608" stroke="none" stroke-width="0" stroke-linejoin="round" />
<polygon points="129.1,115.83 132.44,117.78 128.82,120.71 125.48,118.77" fill="#060608" stroke="none" stroke-width="0" stroke-linejoin="round" />
<polygon points="124.63,119.46 127.97,121.4 124.35,124.33 121.01,122.39" fill="#060608" stroke="none" stroke-width="0" stroke-linejoin="round" />
<polygon points="142.33,111.08 145.67,113.02 142.06,115.95 138.72,114.01" fill="#060608" stroke="none" stroke-width="0" stroke-linejoin="round" />
<polygon points="137.86,114.71 141.2,116.65 137.58,119.58 134.24,117.64" fill="#060608" stroke="none" stroke-width="0" stroke-linejoin="round" />
<polygon points="133.39,118.33 136.73,120.27 133.11,123.2 129.77,121.26" fill="#060608" stroke="none" stroke-width="0" stroke-linejoin="round" />
<polygon points="128.92,121.95 132.26,123.89 128.64,126.82 125.3,124.88" fill="#060608" stroke="none" stroke-width="0" stroke-linejoin="round" />
<polygon points="146.62,113.58 149.96,115.52 146.34,118.45 143.01,116.51" fill="#060608" stroke="none" stroke-width="0" stroke-linejoin="round" />
<polygon points="142.15,117.2 145.49,119.14 141.87,122.07 138.53,120.13" fill="#060608" stroke="none" stroke-width="0" stroke-linejoin="round" />
<polygon points="137.68,120.82 141.02,122.76 137.4,125.69 134.06,123.75" fill="#060608" stroke="none" stroke-width="0" stroke-linejoin="round" />
<polygon points="133.21,124.45 136.55,126.39 132.93,129.32 129.59,127.38" fill="#060608" stroke="none" stroke-width="0" stroke-linejoin="round" />
<polygon points="140.9,128 161.9,113.5 161.9,117.3 140.9,131.8" fill="#ececec" stroke="#2a2a2a" stroke-width="0.35" stroke-linejoin="round" />
<line x1="140.9" y1="128" x2="161.9" y2="113.5" stroke="#f4f4f4" stroke-width="0.8" />
<polygon points="161.9,113.5 163.4,114.3 163.4,118.1 161.9,117.3" fill="#bdbdbd" stroke="#1c1c1c" stroke-width="0.3" stroke-linejoin="round" />
<polygon points="262,143.3 317.9,175 317.9,224.2 262,192.6" fill="#d5d5d7" stroke="#1c1c1c" stroke-width="0.7" stroke-linejoin="round" />
<polygon points="317.9,175 331.3,166.7 331.3,217.2 317.9,224.2" fill="#c6c6c8" stroke="#1c1c1c" stroke-width="0.7" stroke-linejoin="round" />
<polygon points="262,143.3 275,134.6 331.3,166.7 317.9,175" fill="#dcdcde" stroke="#1c1c1c" stroke-width="0.7" stroke-linejoin="round" />
<polyline points="263.2,147.6 316.8,178.2" fill="none" stroke="#555" stroke-width="0.5" stroke-linejoin="miter" />
<polyline points="263.2,190.9 263.2,147.6" fill="none" stroke="#666" stroke-width="0.5" stroke-linejoin="miter" />
<polyline points="263.2,190.9 316.8,221.2" fill="none" stroke="#666" stroke-width="0.5" stroke-linejoin="miter" />
<circle cx="265.7" cy="172.6" r="1.3" fill="#333"/>
<text transform="matrix(0.88,0.48,0,1,272.3,180.6)" font-size="4.5" font-weight="bold" fill="#1e1e1e" stroke="#1e1e1e" stroke-width="0.2" letter-spacing="-0.12">PV COMBINER BOX</text>
<polygon points="422.3,212 461.6,235.3 461.6,339.5 422.3,318.9" fill="#d3d3d5" stroke="#1c1c1c" stroke-width="0.7" stroke-linejoin="round" />
<polygon points="461.6,235.3 502.8,210.8 502.8,314.7 461.6,339.5" fill="#d7d7d9" stroke="#1c1c1c" stroke-width="0.7" stroke-linejoin="round" />
<polygon points="422.3,310.3 461.6,331.1 461.6,339.5 422.3,318.9" fill="#dcdcde" stroke="#1c1c1c" stroke-width="0.7" stroke-linejoin="round" />
<line x1="460.6" y1="236" x2="460.6" y2="330" stroke="#888" stroke-width="0.8" />
<line x1="423.6" y1="214" x2="423.6" y2="309" stroke="#aaa" stroke-width="0.6" />
<polygon points="422.2,209.6 461.6,232.6 461.6,235.3 422.2,212.2" fill="#e0e0e2" stroke="#1c1c1c" stroke-width="0.6" stroke-linejoin="round" />
<polygon points="461.6,232.6 503.6,208.4 503.6,211 461.6,235.3" fill="#dadadc" stroke="#1c1c1c" stroke-width="0.6" stroke-linejoin="round" />
<polygon points="422.2,209.6 463.6,185.6 503.6,208.4 461.6,232.6" fill="#dcdcde" stroke="#1c1c1c" stroke-width="0.7" stroke-linejoin="round" />
<polygon points="423.2,222.3 434.8,228.1 434.8,233.9 423.2,227.4" fill="#d3312f" stroke="none" stroke-width="0" stroke-linejoin="round" />
<polygon points="444.5,234.5 461,243.6 461,249.4 444.5,239.7" fill="#d3312f" stroke="none" stroke-width="0" stroke-linejoin="round" />
<text transform="matrix(0.89,0.45,0,1,425.5,228.6)" font-size="2.6" font-weight="bold" fill="#fff" >HPS/HA</text>
<text transform="matrix(0.87,0.48,0,1,450.5,242.2)" font-size="3.2" font-weight="bold" fill="#fff" >HPS</text>
<polygon points="437.4,252.4 442.6,255.2 442.6,260.1 437.4,257.2" fill="none" stroke="#555" stroke-width="0.6" stroke-linejoin="round" />
<circle cx="438.3" cy="249.8" r="0.45" fill="#666"/>
<circle cx="441.8" cy="251.5" r="0.45" fill="#666"/>
<circle cx="436.6" cy="259.8" r="0.45" fill="#666"/>
<circle cx="441" cy="262.3" r="0.45" fill="#666"/>
<polygon points="425.3,266.8 427.5,268 427.5,276 425.3,274.8" fill="#c4c4c6" stroke="#777" stroke-width="0.4" stroke-linejoin="round" />
<polygon points="424.9,294.5 432.5,298.45 432.5,307.95 424.9,304" fill="#a9a9ab" stroke="none" stroke-width="0" stroke-linejoin="round" />
<line x1="424.9" y1="295.69" x2="432.5" y2="299.64" stroke="#8a8a8c" stroke-width="0.5" />
<line x1="424.9" y1="296.88" x2="432.5" y2="300.83" stroke="#8a8a8c" stroke-width="0.5" />
<line x1="424.9" y1="298.06" x2="432.5" y2="302.01" stroke="#8a8a8c" stroke-width="0.5" />
<line x1="424.9" y1="299.25" x2="432.5" y2="303.2" stroke="#8a8a8c" stroke-width="0.5" />
<line x1="424.9" y1="300.44" x2="432.5" y2="304.39" stroke="#8a8a8c" stroke-width="0.5" />
<line x1="424.9" y1="301.62" x2="432.5" y2="305.58" stroke="#8a8a8c" stroke-width="0.5" />
<line x1="424.9" y1="302.81" x2="432.5" y2="306.76" stroke="#8a8a8c" stroke-width="0.5" />
<polygon points="434.2,299.3 449.8,307.41 449.8,316.91 434.2,308.8" fill="#a9a9ab" stroke="none" stroke-width="0" stroke-linejoin="round" />
<line x1="434.2" y1="300.49" x2="449.8" y2="308.6" stroke="#8a8a8c" stroke-width="0.5" />
<line x1="434.2" y1="301.68" x2="449.8" y2="309.79" stroke="#8a8a8c" stroke-width="0.5" />
<line x1="434.2" y1="302.86" x2="449.8" y2="310.97" stroke="#8a8a8c" stroke-width="0.5" />
<line x1="434.2" y1="304.05" x2="449.8" y2="312.16" stroke="#8a8a8c" stroke-width="0.5" />
<line x1="434.2" y1="305.24" x2="449.8" y2="313.35" stroke="#8a8a8c" stroke-width="0.5" />
<line x1="434.2" y1="306.43" x2="449.8" y2="314.54" stroke="#8a8a8c" stroke-width="0.5" />
<line x1="434.2" y1="307.61" x2="449.8" y2="315.72" stroke="#8a8a8c" stroke-width="0.5" />
<polygon points="451.4,308.2 458.8,312.05 458.8,321.55 451.4,317.7" fill="#a9a9ab" stroke="none" stroke-width="0" stroke-linejoin="round" />
<line x1="451.4" y1="309.39" x2="458.8" y2="313.24" stroke="#8a8a8c" stroke-width="0.5" />
<line x1="451.4" y1="310.57" x2="458.8" y2="314.42" stroke="#8a8a8c" stroke-width="0.5" />
<line x1="451.4" y1="311.76" x2="458.8" y2="315.61" stroke="#8a8a8c" stroke-width="0.5" />
<line x1="451.4" y1="312.95" x2="458.8" y2="316.8" stroke="#8a8a8c" stroke-width="0.5" />
<line x1="451.4" y1="314.14" x2="458.8" y2="317.99" stroke="#8a8a8c" stroke-width="0.5" />
<line x1="451.4" y1="315.32" x2="458.8" y2="319.17" stroke="#8a8a8c" stroke-width="0.5" />
<line x1="451.4" y1="316.51" x2="458.8" y2="320.36" stroke="#8a8a8c" stroke-width="0.5" />
<polygon points="193.7,230.8 211.3,221.1 211.3,288.1 193.7,297.8" fill="#d6d6d8" stroke="#1c1c1c" stroke-width="0.7" stroke-linejoin="round" />
<polygon points="116.2,187.6 193.7,230.8 193.7,297.9 116.2,254.7" fill="#c9c9cb" stroke="#1c1c1c" stroke-width="0.7" stroke-linejoin="round" />
<polygon points="116.8,190.13 133.38,199.37 133.38,263.77 116.8,254.53" fill="#bdbdbf" stroke="none" stroke-width="0" stroke-linejoin="round" />
<polygon points="118.2,192.31 132.17,200.1 132.17,262 118.2,254.21" fill="#e2e2e4" stroke="#3a3a3a" stroke-width="0.55" stroke-linejoin="round" />
<line x1="118.2" y1="199.71" x2="132.17" y2="207.5" stroke="#3a3a3a" stroke-width="0.55" />
<line x1="118.2" y1="206.56" x2="132.17" y2="214.35" stroke="#3a3a3a" stroke-width="0.55" />
<line x1="118.2" y1="213.41" x2="132.17" y2="221.2" stroke="#3a3a3a" stroke-width="0.55" />
<line x1="118.2" y1="220.26" x2="132.17" y2="228.05" stroke="#3a3a3a" stroke-width="0.55" />
<line x1="118.2" y1="227.11" x2="132.17" y2="234.9" stroke="#3a3a3a" stroke-width="0.55" />
<line x1="118.2" y1="233.96" x2="132.17" y2="241.75" stroke="#3a3a3a" stroke-width="0.55" />
<line x1="118.2" y1="240.81" x2="132.17" y2="248.6" stroke="#3a3a3a" stroke-width="0.55" />
<line x1="118.2" y1="247.66" x2="132.17" y2="255.45" stroke="#3a3a3a" stroke-width="0.55" />
<line x1="118.2" y1="254.51" x2="132.17" y2="262.3" stroke="#3a3a3a" stroke-width="0.55" />
<line x1="134.38" y1="199.73" x2="134.38" y2="264.83" stroke="#9a9a9c" stroke-width="1.2" />
<polygon points="136.17,200.93 152.75,210.17 152.75,274.57 136.17,265.33" fill="#bdbdbf" stroke="none" stroke-width="0" stroke-linejoin="round" />
<polygon points="137.57,203.11 151.55,210.9 151.55,272.8 137.57,265.01" fill="#e2e2e4" stroke="#3a3a3a" stroke-width="0.55" stroke-linejoin="round" />
<line x1="137.57" y1="210.51" x2="151.55" y2="218.3" stroke="#3a3a3a" stroke-width="0.55" />
<line x1="137.57" y1="217.36" x2="151.55" y2="225.15" stroke="#3a3a3a" stroke-width="0.55" />
<line x1="137.57" y1="224.21" x2="151.55" y2="232" stroke="#3a3a3a" stroke-width="0.55" />
<line x1="137.57" y1="231.06" x2="151.55" y2="238.85" stroke="#3a3a3a" stroke-width="0.55" />
<line x1="137.57" y1="237.91" x2="151.55" y2="245.7" stroke="#3a3a3a" stroke-width="0.55" />
<line x1="137.57" y1="244.76" x2="151.55" y2="252.55" stroke="#3a3a3a" stroke-width="0.55" />
<line x1="137.57" y1="251.61" x2="151.55" y2="259.4" stroke="#3a3a3a" stroke-width="0.55" />
<line x1="137.57" y1="258.46" x2="151.55" y2="266.25" stroke="#3a3a3a" stroke-width="0.55" />
<line x1="137.57" y1="265.31" x2="151.55" y2="273.1" stroke="#3a3a3a" stroke-width="0.55" />
<line x1="153.75" y1="210.53" x2="153.75" y2="275.63" stroke="#9a9a9c" stroke-width="1.2" />
<polygon points="155.55,211.73 172.12,220.97 172.12,285.37 155.55,276.13" fill="#bdbdbf" stroke="none" stroke-width="0" stroke-linejoin="round" />
<polygon points="156.95,213.91 170.92,221.7 170.92,283.6 156.95,275.81" fill="#e2e2e4" stroke="#3a3a3a" stroke-width="0.55" stroke-linejoin="round" />
<line x1="156.95" y1="221.31" x2="170.92" y2="229.1" stroke="#3a3a3a" stroke-width="0.55" />
<line x1="156.95" y1="228.16" x2="170.92" y2="235.95" stroke="#3a3a3a" stroke-width="0.55" />
<line x1="156.95" y1="235.01" x2="170.92" y2="242.8" stroke="#3a3a3a" stroke-width="0.55" />
<line x1="156.95" y1="241.86" x2="170.92" y2="249.65" stroke="#3a3a3a" stroke-width="0.55" />
<line x1="156.95" y1="248.71" x2="170.92" y2="256.5" stroke="#3a3a3a" stroke-width="0.55" />
<line x1="156.95" y1="255.56" x2="170.92" y2="263.35" stroke="#3a3a3a" stroke-width="0.55" />
<line x1="156.95" y1="262.41" x2="170.92" y2="270.2" stroke="#3a3a3a" stroke-width="0.55" />
<line x1="156.95" y1="269.26" x2="170.92" y2="277.05" stroke="#3a3a3a" stroke-width="0.55" />
<line x1="156.95" y1="276.11" x2="170.92" y2="283.9" stroke="#3a3a3a" stroke-width="0.55" />
<line x1="173.12" y1="221.33" x2="173.12" y2="286.43" stroke="#9a9a9c" stroke-width="1.2" />
<polygon points="174.92,222.53 191.5,231.77 191.5,296.17 174.92,286.93" fill="#bdbdbf" stroke="none" stroke-width="0" stroke-linejoin="round" />
<polygon points="176.32,224.71 190.3,232.5 190.3,294.4 176.32,286.61" fill="#e2e2e4" stroke="#3a3a3a" stroke-width="0.55" stroke-linejoin="round" />
<line x1="176.32" y1="232.11" x2="190.3" y2="239.9" stroke="#3a3a3a" stroke-width="0.55" />
<line x1="176.32" y1="238.96" x2="190.3" y2="246.75" stroke="#3a3a3a" stroke-width="0.55" />
<line x1="176.32" y1="245.81" x2="190.3" y2="253.6" stroke="#3a3a3a" stroke-width="0.55" />
<line x1="176.32" y1="252.66" x2="190.3" y2="260.45" stroke="#3a3a3a" stroke-width="0.55" />
<line x1="176.32" y1="259.51" x2="190.3" y2="267.3" stroke="#3a3a3a" stroke-width="0.55" />
<line x1="176.32" y1="266.36" x2="190.3" y2="274.15" stroke="#3a3a3a" stroke-width="0.55" />
<line x1="176.32" y1="273.21" x2="190.3" y2="281" stroke="#3a3a3a" stroke-width="0.55" />
<line x1="176.32" y1="280.06" x2="190.3" y2="287.85" stroke="#3a3a3a" stroke-width="0.55" />
<line x1="176.32" y1="286.91" x2="190.3" y2="294.7" stroke="#3a3a3a" stroke-width="0.55" />
<line x1="192.5" y1="232.13" x2="192.5" y2="297.23" stroke="#9a9a9c" stroke-width="1.2" />
<polygon points="116.2,187.6 193.7,230.8 193.7,233.2 116.2,190" fill="#dadadc" stroke="#1c1c1c" stroke-width="0.5" stroke-linejoin="round" />
<polygon points="116.2,187.6 134.7,177.4 211.3,221.1 193.7,230.8" fill="#dcdcde" stroke="#1c1c1c" stroke-width="0.7" stroke-linejoin="round" />
<line x1="135.57" y1="198.4" x2="153.88" y2="188.2" stroke="#1c1c1c" stroke-width="0.6" />
<line x1="154.95" y1="209.2" x2="173.25" y2="199" stroke="#1c1c1c" stroke-width="0.6" />
<line x1="174.32" y1="220" x2="192.62" y2="209.8" stroke="#1c1c1c" stroke-width="0.6" />
<polygon points="431.6,37.2 457.9,51.3 457.9,99.2 431.6,85.2" fill="#d6d6d8" stroke="#1c1c1c" stroke-width="0.7" stroke-linejoin="round" />
<polygon points="457.9,51.3 471,43.8 471,91.7 457.9,99.2" fill="#cfcfd1" stroke="#1c1c1c" stroke-width="0.7" stroke-linejoin="round" />
<polygon points="431.6,37.2 444.7,29.1 471,43.8 457.9,51.3" fill="#dcdcde" stroke="#1c1c1c" stroke-width="0.7" stroke-linejoin="round" />
<line x1="431.6" y1="47.2" x2="457.9" y2="61.2" stroke="#1c1c1c" stroke-width="0.6" />
<line x1="457.9" y1="58" x2="471" y2="50.6" stroke="#1c1c1c" stroke-width="0.6" />
<polygon points="433.2,41.2 437.2,43.3 437.2,46.6 433.2,44.5" fill="none" stroke="#1c1c1c" stroke-width="0.6" stroke-linejoin="round" />
<polygon points="448.6,50.7 454,53.6 454,57 448.6,54.1" fill="none" stroke="#1c1c1c" stroke-width="0.6" stroke-linejoin="round" />
<ellipse cx="443.6" cy="48.9" rx="2" ry="2" fill="none" stroke="#1c1c1c" stroke-width="0.6"/>
<ellipse cx="0" cy="0" rx="1" ry="1" fill="none" stroke="#1c1c1c" stroke-width="0.6" vector-effect="non-scaling-stroke" transform="matrix(10.2,5.6,-0.8,7.6,444.5,75.8)"/>
<polygon points="479.3,61.2 498.6,70.9 498.6,122.2 479.3,112.1" fill="#d6d6d8" stroke="#1c1c1c" stroke-width="0.7" stroke-linejoin="round" />
<polygon points="498.6,70.9 510.5,64.1 510.5,115.8 498.6,122.2" fill="#cfcfd1" stroke="#1c1c1c" stroke-width="0.7" stroke-linejoin="round" />
<polygon points="479.3,61.2 493.1,53.1 510.5,64.1 498.6,70.9" fill="#dcdcde" stroke="#1c1c1c" stroke-width="0.7" stroke-linejoin="round" />
<line x1="479.3" y1="91" x2="498.6" y2="101.1" stroke="#1c1c1c" stroke-width="0.6" />
<polygon points="484.6,71.2 489.4,73.7 489.4,82.9 484.6,80.4" fill="#c2c2c4" stroke="#1c1c1c" stroke-width="0.6" stroke-linejoin="round" />
<line x1="495.3" y1="85.5" x2="495.3" y2="90.1" stroke="#1c1c1c" stroke-width="0.7" />
<polygon points="436.4,138.5 440,136.6 442.6,138 442.6,144 439,146 436.4,144.6" fill="#d2d2d4" stroke="#1c1c1c" stroke-width="0.5" stroke-linejoin="round" />
<line x1="436.4" y1="138.5" x2="439" y2="139.9" stroke="#1c1c1c" stroke-width="0.4" />
<line x1="439" y1="139.9" x2="442.6" y2="138" stroke="#1c1c1c" stroke-width="0.4" />
<line x1="439" y1="139.9" x2="439" y2="146" stroke="#1c1c1c" stroke-width="0.4" />
<clipPath id="ribclip"><polygon points="365.6,117.41 365.62,115.78 365.74,114.12 365.96,112.46 366.26,110.81 366.66,109.17 367.14,107.56 367.7,106 368.34,104.5 369.06,103.06 369.84,101.7 370.69,100.43 371.59,99.25 372.54,98.19 373.53,97.23 374.55,96.4 375.61,95.7 376.68,95.14 377.76,94.71 378.84,94.42 379.91,94.28 380.97,94.28 397.97,96.48 399.01,96.62 400.02,96.91 400.99,97.34 401.91,97.91 402.79,98.61 403.6,99.44 404.34,100.4 405.02,101.47 405.62,102.64 406.14,103.92 406.57,105.28 406.92,106.72 407.17,108.22 407.33,109.78 407.4,111.39 407.38,113.02 407.26,114.68 407.04,116.34 406.74,117.99 406.34,119.63 405.86,121.24 405.3,122.8 404.66,124.3 403.94,125.74 403.16,127.1 402.31,128.37 401.41,129.55 400.46,130.61 399.47,131.57 398.45,132.4 397.39,133.1 396.32,133.66 395.24,134.09 394.16,134.38 393.09,134.52 392.03,134.52 375.03,132.32 373.99,132.18 372.98,131.89 372.01,131.46 371.09,130.89 370.21,130.19 369.4,129.36 368.66,128.4 367.98,127.33 367.38,126.16 366.86,124.88 366.43,123.52 366.08,122.08 365.83,120.58 365.67,119.02"/></clipPath>
<polygon points="365.6,117.41 365.62,115.78 365.74,114.12 365.96,112.46 366.26,110.81 366.66,109.17 367.14,107.56 367.7,106 368.34,104.5 369.06,103.06 369.84,101.7 370.69,100.43 371.59,99.25 372.54,98.19 373.53,97.23 374.55,96.4 375.61,95.7 376.68,95.14 377.76,94.71 378.84,94.42 379.91,94.28 380.97,94.28 397.97,96.48 399.01,96.62 400.02,96.91 400.99,97.34 401.91,97.91 402.79,98.61 403.6,99.44 404.34,100.4 405.02,101.47 405.62,102.64 406.14,103.92 406.57,105.28 406.92,106.72 407.17,108.22 407.33,109.78 407.4,111.39 407.38,113.02 407.26,114.68 407.04,116.34 406.74,117.99 406.34,119.63 405.86,121.24 405.3,122.8 404.66,124.3 403.94,125.74 403.16,127.1 402.31,128.37 401.41,129.55 400.46,130.61 399.47,131.57 398.45,132.4 397.39,133.1 396.32,133.66 395.24,134.09 394.16,134.38 393.09,134.52 392.03,134.52 375.03,132.32 373.99,132.18 372.98,131.89 372.01,131.46 371.09,130.89 370.21,130.19 369.4,129.36 368.66,128.4 367.98,127.33 367.38,126.16 366.86,124.88 366.43,123.52 366.08,122.08 365.83,120.58 365.67,119.02" fill="#d8d8da" stroke="#1c1c1c" stroke-width="0.7" stroke-linejoin="round" />
<g clip-path="url(#ribclip)" stroke="#1c1c1c" stroke-width="0.95"><line x1="348.02" y1="39.03" x2="417.98" y2="36.63"/><line x1="348.01" y1="41.18" x2="417.99" y2="39.82"/><line x1="348" y1="43.34" x2="418" y2="43.02"/><line x1="348" y1="45.49" x2="418" y2="46.21"/><line x1="348.01" y1="47.65" x2="417.99" y2="49.41"/><line x1="348.02" y1="49.8" x2="417.97" y2="52.6"/><line x1="348.05" y1="51.96" x2="417.94" y2="55.79"/><line x1="348.07" y1="54.11" x2="417.9" y2="58.98"/><line x1="348.11" y1="56.27" x2="417.86" y2="62.17"/><line x1="348.15" y1="58.43" x2="417.8" y2="65.36"/><line x1="348.19" y1="60.59" x2="417.74" y2="68.54"/><line x1="348.25" y1="62.76" x2="417.67" y2="71.72"/><line x1="348.31" y1="64.92" x2="417.59" y2="74.9"/><line x1="348.37" y1="67.09" x2="417.5" y2="78.08"/><line x1="348.44" y1="69.27" x2="417.41" y2="81.25"/><line x1="348.52" y1="71.44" x2="417.31" y2="84.41"/><line x1="348.6" y1="73.62" x2="417.2" y2="87.57"/><line x1="348.69" y1="75.8" x2="417.08" y2="90.73"/><line x1="348.78" y1="77.99" x2="416.96" y2="93.88"/><line x1="348.88" y1="80.18" x2="416.82" y2="97.03"/><line x1="348.99" y1="82.37" x2="416.69" y2="100.17"/><line x1="349.09" y1="84.57" x2="416.54" y2="103.3"/><line x1="349.21" y1="86.78" x2="416.39" y2="106.43"/><line x1="349.32" y1="88.98" x2="416.23" y2="109.55"/><line x1="349.45" y1="91.2" x2="416.07" y2="112.67"/><line x1="349.57" y1="93.42" x2="415.9" y2="115.78"/><line x1="349.7" y1="95.64" x2="415.73" y2="118.88"/><line x1="349.84" y1="97.87" x2="415.55" y2="121.98"/><line x1="349.97" y1="100.1" x2="415.37" y2="125.06"/><line x1="350.11" y1="102.34" x2="415.18" y2="128.15"/><line x1="350.26" y1="104.59" x2="414.99" y2="131.22"/><line x1="350.4" y1="106.84" x2="414.8" y2="134.29"/><line x1="350.55" y1="109.09" x2="414.6" y2="137.34"/><line x1="350.7" y1="111.35" x2="414.39" y2="140.4"/><line x1="350.86" y1="113.62" x2="414.19" y2="143.44"/><line x1="351.01" y1="115.89" x2="413.98" y2="146.48"/><line x1="351.17" y1="118.17" x2="413.77" y2="149.5"/><line x1="351.33" y1="120.46" x2="413.55" y2="152.53"/><line x1="351.5" y1="122.75" x2="413.34" y2="155.54"/><line x1="351.66" y1="125.04" x2="413.12" y2="158.55"/><line x1="351.82" y1="127.34" x2="412.9" y2="161.54"/><line x1="351.99" y1="129.65" x2="412.68" y2="164.54"/><line x1="352.16" y1="131.96" x2="412.46" y2="167.52"/><line x1="352.33" y1="134.28" x2="412.23" y2="170.49"/></g>
<polygon points="387.26,123.4 387.31,121.78 387.47,120.15 387.73,118.52 388.08,116.9 388.53,115.31 389.07,113.75 389.69,112.24 390.4,110.78 391.19,109.4 392.04,108.1 392.96,106.89 393.94,105.78 394.97,104.77 396.04,103.89 397.14,103.12 398.27,102.49 399.42,101.98 400.57,101.62 401.73,101.39 402.87,101.31 404,101.36 405.1,101.56 406.16,101.9 407.18,102.38 435.25,116.41 436.23,117.07 437.13,117.84 437.94,118.73 438.66,119.74 439.28,120.85 439.79,122.05 440.19,123.34 440.48,124.7 440.66,126.13 440.72,127.62 440.67,129.14 440.5,130.7 440.22,132.28 439.82,133.87 439.32,135.45 438.71,137.01 438,138.55 437.19,140.05 436.3,141.5 435.32,142.88 434.27,144.19 433.15,145.42 431.98,146.55 430.75,147.59 429.48,148.52 428.19,149.33 426.87,150.01 425.55,150.58 424.22,151.01 422.9,151.3 421.6,151.46 420.34,151.48 419.11,151.36 417.93,151.1 416.81,150.71 415.75,150.19 393.82,137.62 392.85,137.01 391.93,136.26 391.09,135.4 390.31,134.42 389.61,133.33 389,132.13 388.47,130.85 388.03,129.48 387.69,128.04 387.45,126.54 387.3,124.98" fill="#d9d9db" stroke="#1c1c1c" stroke-width="0.7" stroke-linejoin="round" />
<ellipse cx="0" cy="0" rx="1" ry="1" fill="#dcdcde" stroke="#1c1c1c" stroke-width="0.7" vector-effect="non-scaling-stroke" transform="matrix(11.69,6.75,9.75,-16.89,425.5,133.3)" />
<ellipse cx="0" cy="0" rx="1" ry="1" fill="#d6d6d8" stroke="#1c1c1c" stroke-width="0.7" vector-effect="non-scaling-stroke" transform="matrix(8.89,5.13,7.41,-12.83,426.1,132.7)" />
<line x1="426.1" y1="132.7" x2="435.99" y2="135.85" stroke="#1c1c1c" stroke-width="0.55" />
<line x1="426.1" y1="132.7" x2="437.34" y2="125.41" stroke="#1c1c1c" stroke-width="0.55" />
<line x1="426.1" y1="132.7" x2="432.1" y2="119.24" stroke="#1c1c1c" stroke-width="0.55" />
<line x1="426.1" y1="132.7" x2="423.35" y2="120.95" stroke="#1c1c1c" stroke-width="0.55" />
<line x1="426.1" y1="132.7" x2="416.21" y2="129.55" stroke="#1c1c1c" stroke-width="0.55" />
<line x1="426.1" y1="132.7" x2="414.86" y2="139.99" stroke="#1c1c1c" stroke-width="0.55" />
<line x1="426.1" y1="132.7" x2="420.1" y2="146.16" stroke="#1c1c1c" stroke-width="0.55" />
<line x1="426.1" y1="132.7" x2="428.85" y2="144.45" stroke="#1c1c1c" stroke-width="0.55" />
<ellipse cx="0" cy="0" rx="1" ry="1" fill="#d6d6d8" stroke="#1c1c1c" stroke-width="0.6" vector-effect="non-scaling-stroke" transform="matrix(3.3,-1.2,0.9,2.2,419.5,112.9)" />
<ellipse cx="0" cy="0" rx="1" ry="1" fill="#cdcdcf" stroke="#1c1c1c" stroke-width="0.5" vector-effect="non-scaling-stroke" transform="matrix(2.6,-0.9,0.7,1.7,418.6,112.4)" />
<polygon points="374.5,88.6 380.9,92.1 381,97.7 376.5,94.3" fill="#c8c8ca" stroke="#1c1c1c" stroke-width="0.5" stroke-linejoin="round" />
<polygon points="380.9,92.1 392.8,85.7 392.1,92.8 381,97.7" fill="#d2d2d4" stroke="#1c1c1c" stroke-width="0.5" stroke-linejoin="round" />
<polygon points="374.5,88.6 385.8,82.2 392.8,85.7 380.9,92.1" fill="#dcdcde" stroke="#1c1c1c" stroke-width="0.5" stroke-linejoin="round" />
<polygon points="355,123 361,119.8 417,152.3 411.5,155.3" fill="#dadadc" stroke="#1c1c1c" stroke-width="0.6" stroke-linejoin="round" />
<polygon points="355,123 411.5,155.3 411.5,161.8 355,129.4" fill="#d0d0d2" stroke="#1c1c1c" stroke-width="0.6" stroke-linejoin="round" />
<polygon points="411.5,155.3 417,152.3 417,158.8 411.5,161.8" fill="#c4c4c6" stroke="#1c1c1c" stroke-width="0.6" stroke-linejoin="round" />
<polygon points="594,381.5 596.6,380.2 596.6,401 594,402.3" fill="#9c9c9e" stroke="#1c1c1c" stroke-width="0.5" stroke-linejoin="round" />
<polygon points="557.8,363.4 594,381.5 594,402.3 557.8,384.7" fill="#d8d8da" stroke="#1c1c1c" stroke-width="0.7" stroke-linejoin="round" />
<polygon points="558.4,361.3 563.2,363.7 563.2,366.9 558.4,364.5" fill="#d4d4d6" stroke="#111" stroke-width="0.5" stroke-linejoin="round" />
<polygon points="563.2,363.7 568,366.1 568,369.3 563.2,366.9" fill="#4a4a4c" stroke="#111" stroke-width="0.5" stroke-linejoin="round" />
<polygon points="568,366.1 572.8,368.5 572.8,371.7 568,369.3" fill="#d4d4d6" stroke="#111" stroke-width="0.5" stroke-linejoin="round" />
<polygon points="572.8,368.5 577.6,370.9 577.6,374.1 572.8,371.7" fill="#4a4a4c" stroke="#111" stroke-width="0.5" stroke-linejoin="round" />
<polygon points="577.6,370.9 582.4,373.3 582.4,376.5 577.6,374.1" fill="#d4d4d6" stroke="#111" stroke-width="0.5" stroke-linejoin="round" />
<polygon points="582.4,373.3 587.2,375.7 587.2,378.9 582.4,376.5" fill="#4a4a4c" stroke="#111" stroke-width="0.5" stroke-linejoin="round" />
<polygon points="587.2,375.7 592,378.1 592,381.3 587.2,378.9" fill="#d4d4d6" stroke="#111" stroke-width="0.5" stroke-linejoin="round" />
<polygon points="558.4,384.4 563.2,386.8 563.2,390 558.4,387.6" fill="#d4d4d6" stroke="#111" stroke-width="0.5" stroke-linejoin="round" />
<polygon points="563.2,386.8 568,389.2 568,392.4 563.2,390" fill="#4a4a4c" stroke="#111" stroke-width="0.5" stroke-linejoin="round" />
<polygon points="568,389.2 572.8,391.6 572.8,394.8 568,392.4" fill="#d4d4d6" stroke="#111" stroke-width="0.5" stroke-linejoin="round" />
<polygon points="572.8,391.6 577.6,394 577.6,397.2 572.8,394.8" fill="#4a4a4c" stroke="#111" stroke-width="0.5" stroke-linejoin="round" />
<polygon points="577.6,394 582.4,396.4 582.4,399.6 577.6,397.2" fill="#d4d4d6" stroke="#111" stroke-width="0.5" stroke-linejoin="round" />
<polygon points="582.4,396.4 587.2,398.8 587.2,402 582.4,399.6" fill="#4a4a4c" stroke="#111" stroke-width="0.5" stroke-linejoin="round" />
<polygon points="587.2,398.8 592,401.2 592,404.4 587.2,402" fill="#d4d4d6" stroke="#111" stroke-width="0.5" stroke-linejoin="round" />
<path d="M661.3,319.2 C660.6,322.3 659.2,323.4 656.2,324.4 L651.6,326 Q649.6,327 650.9,328.6 L665.4,336.9 Q668.2,338.5 670.8,337.1 Q674.4,334.6 675.3,330.4 L675.5,327.1 Z" fill="#d4d4d6" stroke="#0e0e10" stroke-width="0.8"/>
<polygon points="698.2,289.2 700,288.4 700,336.2 698.2,337.1" fill="#2a2a2c" stroke="#1c1c1c" stroke-width="0.5" stroke-linejoin="round" />
<polygon points="634.2,254.2 698.2,289.2 698.2,337.1 634.2,302.6" fill="#dcdcde" stroke="#0c0c0e" stroke-width="1.6" stroke-linejoin="round" />
<clipPath id="scr"><polygon points="636.4,256.9 696.2,290.1 696.2,329.4 636.4,296.1"/></clipPath>
<g clip-path="url(#scr)">
<polygon points="636.4,256.9 696.2,290.1 696.2,329.4 636.4,296.1" fill="#1b2444" stroke="none" stroke-width="0" stroke-linejoin="round" />
<polygon points="663.31,271.84 686.63,284.79 686.63,323.99 660.32,309.38" fill="#2c4684" stroke="none" stroke-width="0" stroke-linejoin="round" />
<polygon points="672.28,278.78 684.24,287.38 684.24,320.7 669.29,312.4 667.5,297.68" fill="#3653a0" stroke="none" stroke-width="0" stroke-linejoin="round" opacity="0.8"/>
<polygon points="639.39,263.26 648.36,265.89 663.31,273.41 674.67,278.93 676.47,284.63 673.48,289.24 670.49,295.42 665.7,303.74 663.31,309.86 639.39,296.58" fill="#5d5c4b" stroke="none" stroke-width="0" stroke-linejoin="round" />
<polygon points="645.37,269.72 657.33,273.22 669.29,279.86 669.29,288.88 663.31,295.36 654.34,298.22 645.37,289.32" fill="#6a6550" stroke="none" stroke-width="0" stroke-linejoin="round" opacity="0.7"/>
<polygon points="641.18,275.24 648.36,277.26 649.56,291.64 642.38,293.54" fill="#4f5448" stroke="none" stroke-width="0" stroke-linejoin="round" opacity="0.8"/>
<polygon points="639.39,258.56 660.32,270.18 648.36,266.68 639.39,264.05" fill="#24306a" stroke="none" stroke-width="0" stroke-linejoin="round" />
<polygon points="636.4,256.9 639.39,258.56 639.39,297.76 636.4,296.1" fill="#141c33" stroke="none" stroke-width="0" stroke-linejoin="round" />
<path d="M685.44,284.12 L696.2,290.1 L696.2,329.3 L685.44,323.32 Z" fill="#0f1833"/>
<path d="M689.92,289.52 A3.1,6.2 12 1 1 688.52,299.52" fill="none" stroke="#22c0dc" stroke-width="1.2"/>
<rect x="648.36" y="285.1" width="1.3" height="1.8" fill="#3d7fd0"/>
<rect x="651.35" y="282.84" width="1.3" height="1.8" fill="#3d7fd0"/>
<rect x="654.34" y="291.16" width="1.3" height="1.8" fill="#3d7fd0"/>
<rect x="646.57" y="274.3" width="1.3" height="1.8" fill="#3d7fd0"/>
<rect x="657.93" y="297.08" width="1.3" height="1.8" fill="#3d7fd0"/>
<rect x="644.77" y="289.77" width="1.3" height="1.8" fill="#3d7fd0"/>
<rect x="654.34" y="276.66" width="1.3" height="1.8" fill="#3d7fd0"/>
<rect x="650.75" y="271.14" width="1.3" height="1.8" fill="#9a6a3a"/>
<rect x="660.32" y="289.78" width="1.3" height="1.8" fill="#3d7fd0"/>
<rect x="656.13" y="282.75" width="1.3" height="1.8" fill="#9a6a3a"/>
<rect x="643.58" y="280.48" width="1.3" height="1.8" fill="#9a6a3a"/>
<rect x="663.31" y="283.6" width="1.3" height="1.8" fill="#9a6a3a"/>
<polygon points="645.97,267.7 652.17,270.1 652.17,271.5 645.97,269.1" fill="#e6e6e8" stroke="none" stroke-width="0" stroke-linejoin="round" />
<polygon points="662.71,306.79 666.21,308.59 666.21,309.79 662.71,307.99" fill="#e0e0e0" stroke="none" stroke-width="0" stroke-linejoin="round" />
<polygon points="687.83,309.76 690.43,311.16 690.43,311.96 687.83,310.56" fill="#7f8fb0" stroke="none" stroke-width="0" stroke-linejoin="round" />
<polygon points="690.22,314.22 692.82,315.62 692.82,316.42 690.22,315.02" fill="#7f8fb0" stroke="none" stroke-width="0" stroke-linejoin="round" />
<polygon points="687.83,316.03 690.43,317.43 690.43,318.23 687.83,316.83" fill="#7f8fb0" stroke="none" stroke-width="0" stroke-linejoin="round" />
<polygon points="691.42,319.59 694.02,320.99 694.02,321.79 691.42,320.39" fill="#7f8fb0" stroke="none" stroke-width="0" stroke-linejoin="round" />
<polygon points="689.02,321.4 691.62,322.8 691.62,323.6 689.02,322.2" fill="#7f8fb0" stroke="none" stroke-width="0" stroke-linejoin="round" />
</g>
<line x1="636.4" y1="296.1" x2="696.2" y2="329.4" stroke="#bbb" stroke-width="0.4" />
<g stroke="#f4f4f4" stroke-linecap="round"><line x1="767.1" y1="142" x2="766.6" y2="147" stroke-width="1.3"/><line x1="769.5" y1="143.06" x2="769.5" y2="148.28" stroke-width="1.0"/><line x1="771.9" y1="142" x2="772.4" y2="147" stroke-width="1.3"/><line x1="769.5" y1="140.94" x2="769.5" y2="145.72" stroke-width="0.5"/><line x1="767.1" y1="142" x2="769.5" y2="148.28" stroke-width="0.6"/><line x1="769.5" y1="143.06" x2="766.6" y2="147" stroke-width="0.6"/><line x1="769.5" y1="143.06" x2="772.4" y2="147" stroke-width="0.6"/><line x1="771.9" y1="142" x2="769.5" y2="148.28" stroke-width="0.6"/><line x1="767.1" y1="142" x2="769.5" y2="145.72" stroke-width="0.45"/><line x1="769.5" y1="140.94" x2="772.4" y2="147" stroke-width="0.45"/><line x1="769.5" y1="140.94" x2="766.6" y2="147" stroke-width="0.45"/><line x1="771.9" y1="142" x2="769.5" y2="145.72" stroke-width="0.45"/><line x1="766.6" y1="147" x2="766.14" y2="152" stroke-width="1.3"/><line x1="769.5" y1="148.28" x2="769.5" y2="153.48" stroke-width="1.0"/><line x1="772.4" y1="147" x2="772.86" y2="152" stroke-width="1.3"/><line x1="769.5" y1="145.72" x2="769.5" y2="150.52" stroke-width="0.5"/><line x1="766.6" y1="147" x2="769.5" y2="153.48" stroke-width="0.6"/><line x1="769.5" y1="148.28" x2="766.14" y2="152" stroke-width="0.6"/><line x1="769.5" y1="148.28" x2="772.86" y2="152" stroke-width="0.6"/><line x1="772.4" y1="147" x2="769.5" y2="153.48" stroke-width="0.6"/><line x1="766.6" y1="147" x2="769.5" y2="150.52" stroke-width="0.45"/><line x1="769.5" y1="145.72" x2="772.86" y2="152" stroke-width="0.45"/><line x1="769.5" y1="145.72" x2="766.14" y2="152" stroke-width="0.45"/><line x1="772.4" y1="147" x2="769.5" y2="150.52" stroke-width="0.45"/><line x1="766.14" y1="152" x2="765.65" y2="158" stroke-width="1.3"/><line x1="769.5" y1="153.48" x2="769.5" y2="159.69" stroke-width="1.0"/><line x1="772.86" y1="152" x2="773.35" y2="158" stroke-width="1.3"/><line x1="769.5" y1="150.52" x2="769.5" y2="156.31" stroke-width="0.5"/><line x1="766.14" y1="152" x2="769.5" y2="159.69" stroke-width="0.6"/><line x1="769.5" y1="153.48" x2="765.65" y2="158" stroke-width="0.6"/><line x1="769.5" y1="153.48" x2="773.35" y2="158" stroke-width="0.6"/><line x1="772.86" y1="152" x2="769.5" y2="159.69" stroke-width="0.6"/><line x1="766.14" y1="152" x2="769.5" y2="156.31" stroke-width="0.45"/><line x1="769.5" y1="150.52" x2="773.35" y2="158" stroke-width="0.45"/><line x1="769.5" y1="150.52" x2="765.65" y2="158" stroke-width="0.45"/><line x1="772.86" y1="152" x2="769.5" y2="156.31" stroke-width="0.45"/><line x1="765.65" y1="158" x2="765.17" y2="164" stroke-width="1.3"/><line x1="769.5" y1="159.69" x2="769.5" y2="165.91" stroke-width="1.0"/><line x1="773.35" y1="158" x2="773.83" y2="164" stroke-width="1.3"/><line x1="769.5" y1="156.31" x2="769.5" y2="162.09" stroke-width="0.5"/><line x1="765.65" y1="158" x2="769.5" y2="165.91" stroke-width="0.6"/><line x1="769.5" y1="159.69" x2="765.17" y2="164" stroke-width="0.6"/><line x1="769.5" y1="159.69" x2="773.83" y2="164" stroke-width="0.6"/><line x1="773.35" y1="158" x2="769.5" y2="165.91" stroke-width="0.6"/><line x1="765.65" y1="158" x2="769.5" y2="162.09" stroke-width="0.45"/><line x1="769.5" y1="156.31" x2="773.83" y2="164" stroke-width="0.45"/><line x1="769.5" y1="156.31" x2="765.17" y2="164" stroke-width="0.45"/><line x1="773.35" y1="158" x2="769.5" y2="162.09" stroke-width="0.45"/><line x1="765.17" y1="164" x2="764.68" y2="170" stroke-width="1.3"/><line x1="769.5" y1="165.91" x2="769.5" y2="172.12" stroke-width="1.0"/><line x1="773.83" y1="164" x2="774.32" y2="170" stroke-width="1.3"/><line x1="769.5" y1="162.09" x2="769.5" y2="167.88" stroke-width="0.5"/><line x1="765.17" y1="164" x2="769.5" y2="172.12" stroke-width="0.6"/><line x1="769.5" y1="165.91" x2="764.68" y2="170" stroke-width="0.6"/><line x1="769.5" y1="165.91" x2="774.32" y2="170" stroke-width="0.6"/><line x1="773.83" y1="164" x2="769.5" y2="172.12" stroke-width="0.6"/><line x1="765.17" y1="164" x2="769.5" y2="167.88" stroke-width="0.45"/><line x1="769.5" y1="162.09" x2="774.32" y2="170" stroke-width="0.45"/><line x1="769.5" y1="162.09" x2="764.68" y2="170" stroke-width="0.45"/><line x1="773.83" y1="164" x2="769.5" y2="167.88" stroke-width="0.45"/><line x1="764.68" y1="170" x2="764.2" y2="176" stroke-width="1.3"/><line x1="769.5" y1="172.12" x2="769.5" y2="178.33" stroke-width="1.0"/><line x1="774.32" y1="170" x2="774.8" y2="176" stroke-width="1.3"/><line x1="769.5" y1="167.88" x2="769.5" y2="173.67" stroke-width="0.5"/><line x1="764.68" y1="170" x2="769.5" y2="178.33" stroke-width="0.6"/><line x1="769.5" y1="172.12" x2="764.2" y2="176" stroke-width="0.6"/><line x1="769.5" y1="172.12" x2="774.8" y2="176" stroke-width="0.6"/><line x1="774.32" y1="170" x2="769.5" y2="178.33" stroke-width="0.6"/><line x1="764.68" y1="170" x2="769.5" y2="173.67" stroke-width="0.45"/><line x1="769.5" y1="167.88" x2="774.8" y2="176" stroke-width="0.45"/><line x1="769.5" y1="167.88" x2="764.2" y2="176" stroke-width="0.45"/><line x1="774.32" y1="170" x2="769.5" y2="173.67" stroke-width="0.45"/><line x1="764.2" y1="176" x2="763.81" y2="182" stroke-width="1.3"/><line x1="769.5" y1="178.33" x2="769.5" y2="184.5" stroke-width="1.0"/><line x1="774.8" y1="176" x2="775.19" y2="182" stroke-width="1.3"/><line x1="769.5" y1="173.67" x2="769.5" y2="179.5" stroke-width="0.5"/><line x1="764.2" y1="176" x2="769.5" y2="184.5" stroke-width="0.6"/><line x1="769.5" y1="178.33" x2="763.81" y2="182" stroke-width="0.6"/><line x1="769.5" y1="178.33" x2="775.19" y2="182" stroke-width="0.6"/><line x1="774.8" y1="176" x2="769.5" y2="184.5" stroke-width="0.6"/><line x1="764.2" y1="176" x2="769.5" y2="179.5" stroke-width="0.45"/><line x1="769.5" y1="173.67" x2="775.19" y2="182" stroke-width="0.45"/><line x1="769.5" y1="173.67" x2="763.81" y2="182" stroke-width="0.45"/><line x1="774.8" y1="176" x2="769.5" y2="179.5" stroke-width="0.45"/><line x1="763.81" y1="182" x2="763.41" y2="188" stroke-width="1.3"/><line x1="769.5" y1="184.5" x2="769.5" y2="190.68" stroke-width="1.0"/><line x1="775.19" y1="182" x2="775.59" y2="188" stroke-width="1.3"/><line x1="769.5" y1="179.5" x2="769.5" y2="185.32" stroke-width="0.5"/><line x1="763.81" y1="182" x2="769.5" y2="190.68" stroke-width="0.6"/><line x1="769.5" y1="184.5" x2="763.41" y2="188" stroke-width="0.6"/><line x1="769.5" y1="184.5" x2="775.59" y2="188" stroke-width="0.6"/><line x1="775.19" y1="182" x2="769.5" y2="190.68" stroke-width="0.6"/><line x1="763.81" y1="182" x2="769.5" y2="185.32" stroke-width="0.45"/><line x1="769.5" y1="179.5" x2="775.59" y2="188" stroke-width="0.45"/><line x1="769.5" y1="179.5" x2="763.41" y2="188" stroke-width="0.45"/><line x1="775.19" y1="182" x2="769.5" y2="185.32" stroke-width="0.45"/><line x1="763.41" y1="188" x2="762.96" y2="195" stroke-width="1.3"/><line x1="769.5" y1="190.68" x2="769.5" y2="197.88" stroke-width="1.0"/><line x1="775.59" y1="188" x2="776.04" y2="195" stroke-width="1.3"/><line x1="769.5" y1="185.32" x2="769.5" y2="192.12" stroke-width="0.5"/><line x1="763.41" y1="188" x2="769.5" y2="197.88" stroke-width="0.6"/><line x1="769.5" y1="190.68" x2="762.96" y2="195" stroke-width="0.6"/><line x1="769.5" y1="190.68" x2="776.04" y2="195" stroke-width="0.6"/><line x1="775.59" y1="188" x2="769.5" y2="197.88" stroke-width="0.6"/><line x1="763.41" y1="188" x2="769.5" y2="192.12" stroke-width="0.45"/><line x1="769.5" y1="185.32" x2="776.04" y2="195" stroke-width="0.45"/><line x1="769.5" y1="185.32" x2="762.96" y2="195" stroke-width="0.45"/><line x1="775.59" y1="188" x2="769.5" y2="192.12" stroke-width="0.45"/><line x1="762.96" y1="195" x2="762.5" y2="202" stroke-width="1.3"/><line x1="769.5" y1="197.88" x2="769.5" y2="205.08" stroke-width="1.0"/><line x1="776.04" y1="195" x2="776.5" y2="202" stroke-width="1.3"/><line x1="769.5" y1="192.12" x2="769.5" y2="198.92" stroke-width="0.5"/><line x1="762.96" y1="195" x2="769.5" y2="205.08" stroke-width="0.6"/><line x1="769.5" y1="197.88" x2="762.5" y2="202" stroke-width="0.6"/><line x1="769.5" y1="197.88" x2="776.5" y2="202" stroke-width="0.6"/><line x1="776.04" y1="195" x2="769.5" y2="205.08" stroke-width="0.6"/><line x1="762.96" y1="195" x2="769.5" y2="198.92" stroke-width="0.45"/><line x1="769.5" y1="192.12" x2="776.5" y2="202" stroke-width="0.45"/><line x1="769.5" y1="192.12" x2="762.5" y2="202" stroke-width="0.45"/><line x1="776.04" y1="195" x2="769.5" y2="198.92" stroke-width="0.45"/><line x1="762.5" y1="202" x2="761.78" y2="209" stroke-width="1.3"/><line x1="769.5" y1="205.08" x2="769.5" y2="212.4" stroke-width="1.0"/><line x1="776.5" y1="202" x2="777.22" y2="209" stroke-width="1.3"/><line x1="769.5" y1="198.92" x2="769.5" y2="205.6" stroke-width="0.5"/><line x1="762.5" y1="202" x2="769.5" y2="212.4" stroke-width="0.6"/><line x1="769.5" y1="205.08" x2="761.78" y2="209" stroke-width="0.6"/><line x1="769.5" y1="205.08" x2="777.22" y2="209" stroke-width="0.6"/><line x1="776.5" y1="202" x2="769.5" y2="212.4" stroke-width="0.6"/><line x1="762.5" y1="202" x2="769.5" y2="205.6" stroke-width="0.45"/><line x1="769.5" y1="198.92" x2="777.22" y2="209" stroke-width="0.45"/><line x1="769.5" y1="198.92" x2="761.78" y2="209" stroke-width="0.45"/><line x1="776.5" y1="202" x2="769.5" y2="205.6" stroke-width="0.45"/><line x1="761.78" y1="209" x2="760.88" y2="216" stroke-width="1.3"/><line x1="769.5" y1="212.4" x2="769.5" y2="219.79" stroke-width="1.0"/><line x1="777.22" y1="209" x2="778.12" y2="216" stroke-width="1.3"/><line x1="769.5" y1="205.6" x2="769.5" y2="212.21" stroke-width="0.5"/><line x1="761.78" y1="209" x2="769.5" y2="219.79" stroke-width="0.6"/><line x1="769.5" y1="212.4" x2="760.88" y2="216" stroke-width="0.6"/><line x1="769.5" y1="212.4" x2="778.12" y2="216" stroke-width="0.6"/><line x1="777.22" y1="209" x2="769.5" y2="219.79" stroke-width="0.6"/><line x1="761.78" y1="209" x2="769.5" y2="212.21" stroke-width="0.45"/><line x1="769.5" y1="205.6" x2="778.12" y2="216" stroke-width="0.45"/><line x1="769.5" y1="205.6" x2="760.88" y2="216" stroke-width="0.45"/><line x1="777.22" y1="209" x2="769.5" y2="212.21" stroke-width="0.45"/><line x1="760.88" y1="216" x2="759.85" y2="224" stroke-width="1.3"/><line x1="769.5" y1="219.79" x2="769.5" y2="228.25" stroke-width="1.0"/><line x1="778.12" y1="216" x2="779.15" y2="224" stroke-width="1.3"/><line x1="769.5" y1="212.21" x2="769.5" y2="219.75" stroke-width="0.5"/><line x1="760.88" y1="216" x2="769.5" y2="228.25" stroke-width="0.6"/><line x1="769.5" y1="219.79" x2="759.85" y2="224" stroke-width="0.6"/><line x1="769.5" y1="219.79" x2="779.15" y2="224" stroke-width="0.6"/><line x1="778.12" y1="216" x2="769.5" y2="228.25" stroke-width="0.6"/><line x1="760.88" y1="216" x2="769.5" y2="219.75" stroke-width="0.45"/><line x1="769.5" y1="212.21" x2="779.15" y2="224" stroke-width="0.45"/><line x1="769.5" y1="212.21" x2="759.85" y2="224" stroke-width="0.45"/><line x1="778.12" y1="216" x2="769.5" y2="219.75" stroke-width="0.45"/><line x1="759.85" y1="224" x2="758.9" y2="232" stroke-width="1.3"/><line x1="769.5" y1="228.25" x2="769.5" y2="236.66" stroke-width="1.0"/><line x1="779.15" y1="224" x2="780.1" y2="232" stroke-width="1.3"/><line x1="769.5" y1="219.75" x2="769.5" y2="227.34" stroke-width="0.5"/><line x1="759.85" y1="224" x2="769.5" y2="236.66" stroke-width="0.6"/><line x1="769.5" y1="228.25" x2="758.9" y2="232" stroke-width="0.6"/><line x1="769.5" y1="228.25" x2="780.1" y2="232" stroke-width="0.6"/><line x1="779.15" y1="224" x2="769.5" y2="236.66" stroke-width="0.6"/><line x1="759.85" y1="224" x2="769.5" y2="227.34" stroke-width="0.45"/><line x1="769.5" y1="219.75" x2="780.1" y2="232" stroke-width="0.45"/><line x1="769.5" y1="219.75" x2="758.9" y2="232" stroke-width="0.45"/><line x1="779.15" y1="224" x2="769.5" y2="227.34" stroke-width="0.45"/><line x1="758.9" y1="232" x2="758.12" y2="240" stroke-width="1.3"/><line x1="769.5" y1="236.66" x2="769.5" y2="245.01" stroke-width="1.0"/><line x1="780.1" y1="232" x2="780.88" y2="240" stroke-width="1.3"/><line x1="769.5" y1="227.34" x2="769.5" y2="234.99" stroke-width="0.5"/><line x1="758.9" y1="232" x2="769.5" y2="245.01" stroke-width="0.6"/><line x1="769.5" y1="236.66" x2="758.12" y2="240" stroke-width="0.6"/><line x1="769.5" y1="236.66" x2="780.88" y2="240" stroke-width="0.6"/><line x1="780.1" y1="232" x2="769.5" y2="245.01" stroke-width="0.6"/><line x1="758.9" y1="232" x2="769.5" y2="234.99" stroke-width="0.45"/><line x1="769.5" y1="227.34" x2="780.88" y2="240" stroke-width="0.45"/><line x1="769.5" y1="227.34" x2="758.12" y2="240" stroke-width="0.45"/><line x1="780.1" y1="232" x2="769.5" y2="234.99" stroke-width="0.45"/><line x1="758.12" y1="240" x2="757.23" y2="249" stroke-width="1.3"/><line x1="769.5" y1="245.01" x2="769.5" y2="254.4" stroke-width="1.0"/><line x1="780.88" y1="240" x2="781.77" y2="249" stroke-width="1.3"/><line x1="769.5" y1="234.99" x2="769.5" y2="243.6" stroke-width="0.5"/><line x1="758.12" y1="240" x2="769.5" y2="254.4" stroke-width="0.6"/><line x1="769.5" y1="245.01" x2="757.23" y2="249" stroke-width="0.6"/><line x1="769.5" y1="245.01" x2="781.77" y2="249" stroke-width="0.6"/><line x1="780.88" y1="240" x2="769.5" y2="254.4" stroke-width="0.6"/><line x1="758.12" y1="240" x2="769.5" y2="243.6" stroke-width="0.45"/><line x1="769.5" y1="234.99" x2="781.77" y2="249" stroke-width="0.45"/><line x1="769.5" y1="234.99" x2="757.23" y2="249" stroke-width="0.45"/><line x1="780.88" y1="240" x2="769.5" y2="243.6" stroke-width="0.45"/><line x1="757.23" y1="249" x2="756.35" y2="258" stroke-width="1.3"/><line x1="769.5" y1="254.4" x2="769.5" y2="263.79" stroke-width="1.0"/><line x1="781.77" y1="249" x2="782.65" y2="258" stroke-width="1.3"/><line x1="769.5" y1="243.6" x2="769.5" y2="252.21" stroke-width="0.5"/><line x1="757.23" y1="249" x2="769.5" y2="263.79" stroke-width="0.6"/><line x1="769.5" y1="254.4" x2="756.35" y2="258" stroke-width="0.6"/><line x1="769.5" y1="254.4" x2="782.65" y2="258" stroke-width="0.6"/><line x1="781.77" y1="249" x2="769.5" y2="263.79" stroke-width="0.6"/><line x1="757.23" y1="249" x2="769.5" y2="252.21" stroke-width="0.45"/><line x1="769.5" y1="243.6" x2="782.65" y2="258" stroke-width="0.45"/><line x1="769.5" y1="243.6" x2="756.35" y2="258" stroke-width="0.45"/><line x1="781.77" y1="249" x2="769.5" y2="252.21" stroke-width="0.45"/><line x1="756.35" y1="258" x2="755.46" y2="267" stroke-width="1.3"/><line x1="769.5" y1="263.79" x2="769.5" y2="273.18" stroke-width="1.0"/><line x1="782.65" y1="258" x2="783.54" y2="267" stroke-width="1.3"/><line x1="769.5" y1="252.21" x2="769.5" y2="260.82" stroke-width="0.5"/><line x1="756.35" y1="258" x2="769.5" y2="273.18" stroke-width="0.6"/><line x1="769.5" y1="263.79" x2="755.46" y2="267" stroke-width="0.6"/><line x1="769.5" y1="263.79" x2="783.54" y2="267" stroke-width="0.6"/><line x1="782.65" y1="258" x2="769.5" y2="273.18" stroke-width="0.6"/><line x1="756.35" y1="258" x2="769.5" y2="260.82" stroke-width="0.45"/><line x1="769.5" y1="252.21" x2="783.54" y2="267" stroke-width="0.45"/><line x1="769.5" y1="252.21" x2="755.46" y2="267" stroke-width="0.45"/><line x1="782.65" y1="258" x2="769.5" y2="260.82" stroke-width="0.45"/><line x1="755.46" y1="267" x2="754.57" y2="276" stroke-width="1.3"/><line x1="769.5" y1="273.18" x2="769.5" y2="282.57" stroke-width="1.0"/><line x1="783.54" y1="267" x2="784.43" y2="276" stroke-width="1.3"/><line x1="769.5" y1="260.82" x2="769.5" y2="269.43" stroke-width="0.5"/><line x1="755.46" y1="267" x2="769.5" y2="282.57" stroke-width="0.6"/><line x1="769.5" y1="273.18" x2="754.57" y2="276" stroke-width="0.6"/><line x1="769.5" y1="273.18" x2="784.43" y2="276" stroke-width="0.6"/><line x1="783.54" y1="267" x2="769.5" y2="282.57" stroke-width="0.6"/><line x1="755.46" y1="267" x2="769.5" y2="269.43" stroke-width="0.45"/><line x1="769.5" y1="260.82" x2="784.43" y2="276" stroke-width="0.45"/><line x1="769.5" y1="260.82" x2="754.57" y2="276" stroke-width="0.45"/><line x1="783.54" y1="267" x2="769.5" y2="269.43" stroke-width="0.45"/><line x1="754.57" y1="276" x2="753.79" y2="284" stroke-width="1.3"/><line x1="769.5" y1="282.57" x2="769.5" y2="290.91" stroke-width="1.0"/><line x1="784.43" y1="276" x2="785.21" y2="284" stroke-width="1.3"/><line x1="769.5" y1="269.43" x2="769.5" y2="277.09" stroke-width="0.5"/><line x1="754.57" y1="276" x2="769.5" y2="290.91" stroke-width="0.6"/><line x1="769.5" y1="282.57" x2="753.79" y2="284" stroke-width="0.6"/><line x1="769.5" y1="282.57" x2="785.21" y2="284" stroke-width="0.6"/><line x1="784.43" y1="276" x2="769.5" y2="290.91" stroke-width="0.6"/><line x1="754.57" y1="276" x2="769.5" y2="277.09" stroke-width="0.45"/><line x1="769.5" y1="269.43" x2="785.21" y2="284" stroke-width="0.45"/><line x1="769.5" y1="269.43" x2="753.79" y2="284" stroke-width="0.45"/><line x1="784.43" y1="276" x2="769.5" y2="277.09" stroke-width="0.45"/><line x1="753.79" y1="284" x2="753" y2="292" stroke-width="1.3"/><line x1="769.5" y1="290.91" x2="769.5" y2="299.26" stroke-width="1.0"/><line x1="785.21" y1="284" x2="786" y2="292" stroke-width="1.3"/><line x1="769.5" y1="277.09" x2="769.5" y2="284.74" stroke-width="0.5"/><line x1="753.79" y1="284" x2="769.5" y2="299.26" stroke-width="0.6"/><line x1="769.5" y1="290.91" x2="753" y2="292" stroke-width="0.6"/><line x1="769.5" y1="290.91" x2="786" y2="292" stroke-width="0.6"/><line x1="785.21" y1="284" x2="769.5" y2="299.26" stroke-width="0.6"/><line x1="753.79" y1="284" x2="769.5" y2="284.74" stroke-width="0.45"/><line x1="769.5" y1="277.09" x2="786" y2="292" stroke-width="0.45"/><line x1="769.5" y1="277.09" x2="753" y2="292" stroke-width="0.45"/><line x1="785.21" y1="284" x2="769.5" y2="284.74" stroke-width="0.45"/><line x1="767.1" y1="142" x2="769.5" y2="143.06" stroke-width="0.6"/><line x1="769.5" y1="143.06" x2="771.9" y2="142" stroke-width="0.6"/><line x1="767.1" y1="142" x2="769.5" y2="140.94" stroke-width="0.4"/><line x1="769.5" y1="140.94" x2="771.9" y2="142" stroke-width="0.4"/><line x1="766.6" y1="147" x2="769.5" y2="148.28" stroke-width="0.6"/><line x1="769.5" y1="148.28" x2="772.4" y2="147" stroke-width="0.6"/><line x1="766.6" y1="147" x2="769.5" y2="145.72" stroke-width="0.4"/><line x1="769.5" y1="145.72" x2="772.4" y2="147" stroke-width="0.4"/><line x1="766.14" y1="152" x2="769.5" y2="153.48" stroke-width="0.6"/><line x1="769.5" y1="153.48" x2="772.86" y2="152" stroke-width="0.6"/><line x1="766.14" y1="152" x2="769.5" y2="150.52" stroke-width="0.4"/><line x1="769.5" y1="150.52" x2="772.86" y2="152" stroke-width="0.4"/><line x1="765.65" y1="158" x2="769.5" y2="159.69" stroke-width="0.6"/><line x1="769.5" y1="159.69" x2="773.35" y2="158" stroke-width="0.6"/><line x1="765.65" y1="158" x2="769.5" y2="156.31" stroke-width="0.4"/><line x1="769.5" y1="156.31" x2="773.35" y2="158" stroke-width="0.4"/><line x1="765.17" y1="164" x2="769.5" y2="165.91" stroke-width="0.6"/><line x1="769.5" y1="165.91" x2="773.83" y2="164" stroke-width="0.6"/><line x1="765.17" y1="164" x2="769.5" y2="162.09" stroke-width="0.4"/><line x1="769.5" y1="162.09" x2="773.83" y2="164" stroke-width="0.4"/><line x1="764.68" y1="170" x2="769.5" y2="172.12" stroke-width="0.6"/><line x1="769.5" y1="172.12" x2="774.32" y2="170" stroke-width="0.6"/><line x1="764.68" y1="170" x2="769.5" y2="167.88" stroke-width="0.4"/><line x1="769.5" y1="167.88" x2="774.32" y2="170" stroke-width="0.4"/><line x1="764.2" y1="176" x2="769.5" y2="178.33" stroke-width="0.6"/><line x1="769.5" y1="178.33" x2="774.8" y2="176" stroke-width="0.6"/><line x1="764.2" y1="176" x2="769.5" y2="173.67" stroke-width="0.4"/><line x1="769.5" y1="173.67" x2="774.8" y2="176" stroke-width="0.4"/><line x1="763.81" y1="182" x2="769.5" y2="184.5" stroke-width="0.6"/><line x1="769.5" y1="184.5" x2="775.19" y2="182" stroke-width="0.6"/><line x1="763.81" y1="182" x2="769.5" y2="179.5" stroke-width="0.4"/><line x1="769.5" y1="179.5" x2="775.19" y2="182" stroke-width="0.4"/><line x1="763.41" y1="188" x2="769.5" y2="190.68" stroke-width="0.6"/><line x1="769.5" y1="190.68" x2="775.59" y2="188" stroke-width="0.6"/><line x1="763.41" y1="188" x2="769.5" y2="185.32" stroke-width="0.4"/><line x1="769.5" y1="185.32" x2="775.59" y2="188" stroke-width="0.4"/><line x1="762.96" y1="195" x2="769.5" y2="197.88" stroke-width="0.6"/><line x1="769.5" y1="197.88" x2="776.04" y2="195" stroke-width="0.6"/><line x1="762.96" y1="195" x2="769.5" y2="192.12" stroke-width="0.4"/><line x1="769.5" y1="192.12" x2="776.04" y2="195" stroke-width="0.4"/><line x1="762.5" y1="202" x2="769.5" y2="205.08" stroke-width="0.6"/><line x1="769.5" y1="205.08" x2="776.5" y2="202" stroke-width="0.6"/><line x1="762.5" y1="202" x2="769.5" y2="198.92" stroke-width="0.4"/><line x1="769.5" y1="198.92" x2="776.5" y2="202" stroke-width="0.4"/><line x1="761.78" y1="209" x2="769.5" y2="212.4" stroke-width="0.6"/><line x1="769.5" y1="212.4" x2="777.22" y2="209" stroke-width="0.6"/><line x1="761.78" y1="209" x2="769.5" y2="205.6" stroke-width="0.4"/><line x1="769.5" y1="205.6" x2="777.22" y2="209" stroke-width="0.4"/><line x1="760.88" y1="216" x2="769.5" y2="219.79" stroke-width="0.6"/><line x1="769.5" y1="219.79" x2="778.12" y2="216" stroke-width="0.6"/><line x1="760.88" y1="216" x2="769.5" y2="212.21" stroke-width="0.4"/><line x1="769.5" y1="212.21" x2="778.12" y2="216" stroke-width="0.4"/><line x1="759.85" y1="224" x2="769.5" y2="228.25" stroke-width="0.6"/><line x1="769.5" y1="228.25" x2="779.15" y2="224" stroke-width="0.6"/><line x1="759.85" y1="224" x2="769.5" y2="219.75" stroke-width="0.4"/><line x1="769.5" y1="219.75" x2="779.15" y2="224" stroke-width="0.4"/><line x1="758.9" y1="232" x2="769.5" y2="236.66" stroke-width="0.6"/><line x1="769.5" y1="236.66" x2="780.1" y2="232" stroke-width="0.6"/><line x1="758.9" y1="232" x2="769.5" y2="227.34" stroke-width="0.4"/><line x1="769.5" y1="227.34" x2="780.1" y2="232" stroke-width="0.4"/><line x1="758.12" y1="240" x2="769.5" y2="245.01" stroke-width="0.6"/><line x1="769.5" y1="245.01" x2="780.88" y2="240" stroke-width="0.6"/><line x1="758.12" y1="240" x2="769.5" y2="234.99" stroke-width="0.4"/><line x1="769.5" y1="234.99" x2="780.88" y2="240" stroke-width="0.4"/><line x1="757.23" y1="249" x2="769.5" y2="254.4" stroke-width="0.6"/><line x1="769.5" y1="254.4" x2="781.77" y2="249" stroke-width="0.6"/><line x1="757.23" y1="249" x2="769.5" y2="243.6" stroke-width="0.4"/><line x1="769.5" y1="243.6" x2="781.77" y2="249" stroke-width="0.4"/><line x1="756.35" y1="258" x2="769.5" y2="263.79" stroke-width="0.6"/><line x1="769.5" y1="263.79" x2="782.65" y2="258" stroke-width="0.6"/><line x1="756.35" y1="258" x2="769.5" y2="252.21" stroke-width="0.4"/><line x1="769.5" y1="252.21" x2="782.65" y2="258" stroke-width="0.4"/><line x1="755.46" y1="267" x2="769.5" y2="273.18" stroke-width="0.6"/><line x1="769.5" y1="273.18" x2="783.54" y2="267" stroke-width="0.6"/><line x1="755.46" y1="267" x2="769.5" y2="260.82" stroke-width="0.4"/><line x1="769.5" y1="260.82" x2="783.54" y2="267" stroke-width="0.4"/><line x1="754.57" y1="276" x2="769.5" y2="282.57" stroke-width="0.6"/><line x1="769.5" y1="282.57" x2="784.43" y2="276" stroke-width="0.6"/><line x1="754.57" y1="276" x2="769.5" y2="269.43" stroke-width="0.4"/><line x1="769.5" y1="269.43" x2="784.43" y2="276" stroke-width="0.4"/><line x1="753.79" y1="284" x2="769.5" y2="290.91" stroke-width="0.6"/><line x1="769.5" y1="290.91" x2="785.21" y2="284" stroke-width="0.6"/><line x1="753.79" y1="284" x2="769.5" y2="277.09" stroke-width="0.4"/><line x1="769.5" y1="277.09" x2="785.21" y2="284" stroke-width="0.4"/><line x1="753" y1="292" x2="769.5" y2="299.26" stroke-width="0.6"/><line x1="769.5" y1="299.26" x2="786" y2="292" stroke-width="0.6"/><line x1="753" y1="292" x2="769.5" y2="284.74" stroke-width="0.4"/><line x1="769.5" y1="284.74" x2="786" y2="292" stroke-width="0.4"/><line x1="764.8" y1="169" x2="760.77" y2="167.4" stroke-width="1.15"/><line x1="764.8" y1="175.5" x2="760.83" y2="173.82" stroke-width="1.0"/><line x1="765.8" y1="173.38" x2="761.8" y2="171.73" stroke-width="0.5"/><line x1="764.8" y1="169" x2="760.83" y2="173.82" stroke-width="0.6"/><line x1="765.8" y1="173.38" x2="760.77" y2="167.4" stroke-width="0.4"/><line x1="760.77" y1="167.4" x2="756.73" y2="165.8" stroke-width="1.15"/><line x1="760.83" y1="173.82" x2="756.87" y2="172.13" stroke-width="1.0"/><line x1="761.8" y1="171.73" x2="757.81" y2="170.08" stroke-width="0.5"/><line x1="760.83" y1="173.82" x2="756.73" y2="165.8" stroke-width="0.6"/><line x1="761.8" y1="171.73" x2="756.73" y2="165.8" stroke-width="0.4"/><line x1="756.73" y1="165.8" x2="752.7" y2="164.2" stroke-width="1.15"/><line x1="756.87" y1="172.13" x2="752.9" y2="170.45" stroke-width="1.0"/><line x1="757.81" y1="170.08" x2="753.81" y2="168.44" stroke-width="0.5"/><line x1="756.73" y1="165.8" x2="752.9" y2="170.45" stroke-width="0.6"/><line x1="757.81" y1="170.08" x2="752.7" y2="164.2" stroke-width="0.4"/><line x1="752.7" y1="164.2" x2="748.67" y2="162.6" stroke-width="1.15"/><line x1="752.9" y1="170.45" x2="748.93" y2="168.77" stroke-width="1.0"/><line x1="753.81" y1="168.44" x2="749.81" y2="166.79" stroke-width="0.5"/><line x1="752.9" y1="170.45" x2="748.67" y2="162.6" stroke-width="0.6"/><line x1="753.81" y1="168.44" x2="748.67" y2="162.6" stroke-width="0.4"/><line x1="748.67" y1="162.6" x2="744.63" y2="161" stroke-width="1.15"/><line x1="748.93" y1="168.77" x2="744.97" y2="167.08" stroke-width="1.0"/><line x1="749.81" y1="166.79" x2="745.82" y2="165.15" stroke-width="0.5"/><line x1="748.67" y1="162.6" x2="744.97" y2="167.08" stroke-width="0.6"/><line x1="749.81" y1="166.79" x2="744.63" y2="161" stroke-width="0.4"/><line x1="744.63" y1="161" x2="740.6" y2="159.4" stroke-width="1.15"/><line x1="744.97" y1="167.08" x2="741" y2="165.4" stroke-width="1.0"/><line x1="745.82" y1="165.15" x2="741.82" y2="163.5" stroke-width="0.5"/><line x1="744.97" y1="167.08" x2="740.6" y2="159.4" stroke-width="0.6"/><line x1="745.82" y1="165.15" x2="740.6" y2="159.4" stroke-width="0.4"/><line x1="764.8" y1="169" x2="764.8" y2="175.5" stroke-width="0.55"/><line x1="760.77" y1="167.4" x2="760.83" y2="173.82" stroke-width="0.55"/><line x1="756.73" y1="165.8" x2="756.87" y2="172.13" stroke-width="0.55"/><line x1="752.7" y1="164.2" x2="752.9" y2="170.45" stroke-width="0.55"/><line x1="748.67" y1="162.6" x2="748.93" y2="168.77" stroke-width="0.55"/><line x1="744.63" y1="161" x2="744.97" y2="167.08" stroke-width="0.55"/><line x1="740.6" y1="159.4" x2="741" y2="165.4" stroke-width="0.55"/><line x1="775" y1="174" x2="778.92" y2="177" stroke-width="1.15"/><line x1="776" y1="180" x2="779.58" y2="183.17" stroke-width="1.0"/><line x1="776.55" y1="178.1" x2="780.28" y2="181.19" stroke-width="0.5"/><line x1="775" y1="174" x2="779.58" y2="183.17" stroke-width="0.6"/><line x1="776.55" y1="178.1" x2="778.92" y2="177" stroke-width="0.4"/><line x1="778.92" y1="177" x2="782.83" y2="180" stroke-width="1.15"/><line x1="779.58" y1="183.17" x2="783.17" y2="186.33" stroke-width="1.0"/><line x1="780.28" y1="181.19" x2="784.02" y2="184.28" stroke-width="0.5"/><line x1="779.58" y1="183.17" x2="782.83" y2="180" stroke-width="0.6"/><line x1="780.28" y1="181.19" x2="782.83" y2="180" stroke-width="0.4"/><line x1="782.83" y1="180" x2="786.75" y2="183" stroke-width="1.15"/><line x1="783.17" y1="186.33" x2="786.75" y2="189.5" stroke-width="1.0"/><line x1="784.02" y1="184.28" x2="787.75" y2="187.38" stroke-width="0.5"/><line x1="782.83" y1="180" x2="786.75" y2="189.5" stroke-width="0.6"/><line x1="784.02" y1="184.28" x2="786.75" y2="183" stroke-width="0.4"/><line x1="786.75" y1="183" x2="790.67" y2="186" stroke-width="1.15"/><line x1="786.75" y1="189.5" x2="790.33" y2="192.67" stroke-width="1.0"/><line x1="787.75" y1="187.38" x2="791.48" y2="190.47" stroke-width="0.5"/><line x1="786.75" y1="189.5" x2="790.67" y2="186" stroke-width="0.6"/><line x1="787.75" y1="187.38" x2="790.67" y2="186" stroke-width="0.4"/><line x1="790.67" y1="186" x2="794.58" y2="189" stroke-width="1.15"/><line x1="790.33" y1="192.67" x2="793.92" y2="195.83" stroke-width="1.0"/><line x1="791.48" y1="190.47" x2="795.22" y2="193.56" stroke-width="0.5"/><line x1="790.67" y1="186" x2="793.92" y2="195.83" stroke-width="0.6"/><line x1="791.48" y1="190.47" x2="794.58" y2="189" stroke-width="0.4"/><line x1="794.58" y1="189" x2="798.5" y2="192" stroke-width="1.15"/><line x1="793.92" y1="195.83" x2="797.5" y2="199" stroke-width="1.0"/><line x1="795.22" y1="193.56" x2="798.95" y2="196.65" stroke-width="0.5"/><line x1="793.92" y1="195.83" x2="798.5" y2="192" stroke-width="0.6"/><line x1="795.22" y1="193.56" x2="798.5" y2="192" stroke-width="0.4"/><line x1="775" y1="174" x2="776" y2="180" stroke-width="0.55"/><line x1="778.92" y1="177" x2="779.58" y2="183.17" stroke-width="0.55"/><line x1="782.83" y1="180" x2="783.17" y2="186.33" stroke-width="0.55"/><line x1="786.75" y1="183" x2="786.75" y2="189.5" stroke-width="0.55"/><line x1="790.67" y1="186" x2="790.33" y2="192.67" stroke-width="0.55"/><line x1="794.58" y1="189" x2="793.92" y2="195.83" stroke-width="0.55"/><line x1="798.5" y1="192" x2="797.5" y2="199" stroke-width="0.55"/><line x1="764.8" y1="169" x2="775" y2="174" stroke-width="1.0"/><line x1="764.8" y1="175.5" x2="776" y2="180" stroke-width="1.0"/><line x1="763.4" y1="195" x2="759.01" y2="193.19" stroke-width="1.15"/><line x1="763" y1="203" x2="758.69" y2="201.15" stroke-width="1.0"/><line x1="764.18" y1="200.2" x2="759.83" y2="198.37" stroke-width="0.5"/><line x1="763.4" y1="195" x2="758.69" y2="201.15" stroke-width="0.6"/><line x1="764.18" y1="200.2" x2="759.01" y2="193.19" stroke-width="0.4"/><line x1="759.01" y1="193.19" x2="754.62" y2="191.38" stroke-width="1.15"/><line x1="758.69" y1="201.15" x2="754.38" y2="199.3" stroke-width="1.0"/><line x1="759.83" y1="198.37" x2="755.49" y2="196.53" stroke-width="0.5"/><line x1="758.69" y1="201.15" x2="754.62" y2="191.38" stroke-width="0.6"/><line x1="759.83" y1="198.37" x2="754.62" y2="191.38" stroke-width="0.4"/><line x1="754.62" y1="191.38" x2="750.24" y2="189.56" stroke-width="1.15"/><line x1="754.38" y1="199.3" x2="750.06" y2="197.45" stroke-width="1.0"/><line x1="755.49" y1="196.53" x2="751.14" y2="194.7" stroke-width="0.5"/><line x1="754.62" y1="191.38" x2="750.06" y2="197.45" stroke-width="0.6"/><line x1="755.49" y1="196.53" x2="750.24" y2="189.56" stroke-width="0.4"/><line x1="750.24" y1="189.56" x2="745.85" y2="187.75" stroke-width="1.15"/><line x1="750.06" y1="197.45" x2="745.75" y2="195.6" stroke-width="1.0"/><line x1="751.14" y1="194.7" x2="746.79" y2="192.87" stroke-width="0.5"/><line x1="750.06" y1="197.45" x2="745.85" y2="187.75" stroke-width="0.6"/><line x1="751.14" y1="194.7" x2="745.85" y2="187.75" stroke-width="0.4"/><line x1="745.85" y1="187.75" x2="741.46" y2="185.94" stroke-width="1.15"/><line x1="745.75" y1="195.6" x2="741.44" y2="193.75" stroke-width="1.0"/><line x1="746.79" y1="192.87" x2="742.45" y2="191.03" stroke-width="0.5"/><line x1="745.85" y1="187.75" x2="741.44" y2="193.75" stroke-width="0.6"/><line x1="746.79" y1="192.87" x2="741.46" y2="185.94" stroke-width="0.4"/><line x1="741.46" y1="185.94" x2="737.07" y2="184.12" stroke-width="1.15"/><line x1="741.44" y1="193.75" x2="737.12" y2="191.9" stroke-width="1.0"/><line x1="742.45" y1="191.03" x2="738.1" y2="189.2" stroke-width="0.5"/><line x1="741.44" y1="193.75" x2="737.07" y2="184.12" stroke-width="0.6"/><line x1="742.45" y1="191.03" x2="737.07" y2="184.12" stroke-width="0.4"/><line x1="737.07" y1="184.12" x2="732.69" y2="182.31" stroke-width="1.15"/><line x1="737.12" y1="191.9" x2="732.81" y2="190.05" stroke-width="1.0"/><line x1="738.1" y1="189.2" x2="733.76" y2="187.37" stroke-width="0.5"/><line x1="737.07" y1="184.12" x2="732.81" y2="190.05" stroke-width="0.6"/><line x1="738.1" y1="189.2" x2="732.69" y2="182.31" stroke-width="0.4"/><line x1="732.69" y1="182.31" x2="728.3" y2="180.5" stroke-width="1.15"/><line x1="732.81" y1="190.05" x2="728.5" y2="188.2" stroke-width="1.0"/><line x1="733.76" y1="187.37" x2="729.41" y2="185.53" stroke-width="0.5"/><line x1="732.81" y1="190.05" x2="728.3" y2="180.5" stroke-width="0.6"/><line x1="733.76" y1="187.37" x2="728.3" y2="180.5" stroke-width="0.4"/><line x1="763.4" y1="195" x2="763" y2="203" stroke-width="0.55"/><line x1="759.01" y1="193.19" x2="758.69" y2="201.15" stroke-width="0.55"/><line x1="754.62" y1="191.38" x2="754.38" y2="199.3" stroke-width="0.55"/><line x1="750.24" y1="189.56" x2="750.06" y2="197.45" stroke-width="0.55"/><line x1="745.85" y1="187.75" x2="745.75" y2="195.6" stroke-width="0.55"/><line x1="741.46" y1="185.94" x2="741.44" y2="193.75" stroke-width="0.55"/><line x1="737.07" y1="184.12" x2="737.12" y2="191.9" stroke-width="0.55"/><line x1="732.69" y1="182.31" x2="732.81" y2="190.05" stroke-width="0.55"/><line x1="728.3" y1="180.5" x2="728.5" y2="188.2" stroke-width="0.55"/><line x1="778" y1="201" x2="782.06" y2="204.07" stroke-width="1.15"/><line x1="778" y1="209.5" x2="782.06" y2="212.35" stroke-width="1.0"/><line x1="779" y1="206.48" x2="783.06" y2="209.43" stroke-width="0.5"/><line x1="778" y1="201" x2="782.06" y2="212.35" stroke-width="0.6"/><line x1="779" y1="206.48" x2="782.06" y2="204.07" stroke-width="0.4"/><line x1="782.06" y1="204.07" x2="786.12" y2="207.15" stroke-width="1.15"/><line x1="782.06" y1="212.35" x2="786.12" y2="215.2" stroke-width="1.0"/><line x1="783.06" y1="209.43" x2="787.12" y2="212.38" stroke-width="0.5"/><line x1="782.06" y1="212.35" x2="786.12" y2="207.15" stroke-width="0.6"/><line x1="783.06" y1="209.43" x2="786.12" y2="207.15" stroke-width="0.4"/><line x1="786.12" y1="207.15" x2="790.19" y2="210.22" stroke-width="1.15"/><line x1="786.12" y1="215.2" x2="790.19" y2="218.05" stroke-width="1.0"/><line x1="787.12" y1="212.38" x2="791.19" y2="215.33" stroke-width="0.5"/><line x1="786.12" y1="207.15" x2="790.19" y2="218.05" stroke-width="0.6"/><line x1="787.12" y1="212.38" x2="790.19" y2="210.22" stroke-width="0.4"/><line x1="790.19" y1="210.22" x2="794.25" y2="213.3" stroke-width="1.15"/><line x1="790.19" y1="218.05" x2="794.25" y2="220.9" stroke-width="1.0"/><line x1="791.19" y1="215.33" x2="795.25" y2="218.28" stroke-width="0.5"/><line x1="790.19" y1="218.05" x2="794.25" y2="213.3" stroke-width="0.6"/><line x1="791.19" y1="215.33" x2="794.25" y2="213.3" stroke-width="0.4"/><line x1="794.25" y1="213.3" x2="798.31" y2="216.38" stroke-width="1.15"/><line x1="794.25" y1="220.9" x2="798.31" y2="223.75" stroke-width="1.0"/><line x1="795.25" y1="218.28" x2="799.31" y2="221.23" stroke-width="0.5"/><line x1="794.25" y1="213.3" x2="798.31" y2="223.75" stroke-width="0.6"/><line x1="795.25" y1="218.28" x2="798.31" y2="216.38" stroke-width="0.4"/><line x1="798.31" y1="216.38" x2="802.38" y2="219.45" stroke-width="1.15"/><line x1="798.31" y1="223.75" x2="802.38" y2="226.6" stroke-width="1.0"/><line x1="799.31" y1="221.23" x2="803.38" y2="224.18" stroke-width="0.5"/><line x1="798.31" y1="223.75" x2="802.38" y2="219.45" stroke-width="0.6"/><line x1="799.31" y1="221.23" x2="802.38" y2="219.45" stroke-width="0.4"/><line x1="802.38" y1="219.45" x2="806.44" y2="222.53" stroke-width="1.15"/><line x1="802.38" y1="226.6" x2="806.44" y2="229.45" stroke-width="1.0"/><line x1="803.38" y1="224.18" x2="807.44" y2="227.13" stroke-width="0.5"/><line x1="802.38" y1="219.45" x2="806.44" y2="229.45" stroke-width="0.6"/><line x1="803.38" y1="224.18" x2="806.44" y2="222.53" stroke-width="0.4"/><line x1="806.44" y1="222.53" x2="810.5" y2="225.6" stroke-width="1.15"/><line x1="806.44" y1="229.45" x2="810.5" y2="232.3" stroke-width="1.0"/><line x1="807.44" y1="227.13" x2="811.5" y2="230.09" stroke-width="0.5"/><line x1="806.44" y1="229.45" x2="810.5" y2="225.6" stroke-width="0.6"/><line x1="807.44" y1="227.13" x2="810.5" y2="225.6" stroke-width="0.4"/><line x1="778" y1="201" x2="778" y2="209.5" stroke-width="0.55"/><line x1="782.06" y1="204.07" x2="782.06" y2="212.35" stroke-width="0.55"/><line x1="786.12" y1="207.15" x2="786.12" y2="215.2" stroke-width="0.55"/><line x1="790.19" y1="210.22" x2="790.19" y2="218.05" stroke-width="0.55"/><line x1="794.25" y1="213.3" x2="794.25" y2="220.9" stroke-width="0.55"/><line x1="798.31" y1="216.38" x2="798.31" y2="223.75" stroke-width="0.55"/><line x1="802.38" y1="219.45" x2="802.38" y2="226.6" stroke-width="0.55"/><line x1="806.44" y1="222.53" x2="806.44" y2="229.45" stroke-width="0.55"/><line x1="810.5" y1="225.6" x2="810.5" y2="232.3" stroke-width="0.55"/><line x1="763.4" y1="195" x2="778" y2="201" stroke-width="1.0"/><line x1="763" y1="203" x2="778" y2="209.5" stroke-width="1.0"/><path d="M742,159.2 Q738.6,160.2 740.6,165.8" fill="none" stroke-width="1.3"/><path d="M730,180.2 Q725.8,182 728.4,188.6" fill="none" stroke-width="1.3"/><line x1="741.6" y1="165" x2="741.6" y2="168.2" stroke-width="1.1"/><line x1="751.4" y1="168.5" x2="751.4" y2="171.7" stroke-width="1.1"/><line x1="786.6" y1="190.8" x2="786.6" y2="194" stroke-width="1.1"/><line x1="797.4" y1="197" x2="797.4" y2="200.2" stroke-width="1.1"/><line x1="728.6" y1="188" x2="728.6" y2="191.2" stroke-width="1.1"/><line x1="742.6" y1="194.5" x2="742.6" y2="197.7" stroke-width="1.1"/><line x1="798" y1="226" x2="798" y2="229.2" stroke-width="1.1"/><line x1="810.4" y1="232.2" x2="810.4" y2="235.4" stroke-width="1.1"/></g>
<text transform="matrix(0.8829,0.4695,-0.8829,0.4695,43.2,130.8)" font-size="9.4" font-weight="bold" fill="#f2f2f2" >PV PANELS</text>
<text transform="matrix(0.8829,0.4695,-0.8829,0.4695,233.4,195.2)" font-size="9.4" font-weight="bold" fill="#f2f2f2" >PV COMBINER BOX</text>
<text transform="matrix(0.8829,0.4695,-0.8829,0.4695,102,268.4)" font-size="9.4" font-weight="bold" fill="#f2f2f2" >BATTERY RACKS</text>
<text transform="matrix(0.8829,0.4695,-0.8829,0.4695,346.2,141.2)" font-size="9.4" font-weight="bold" fill="#f2f2f2" >GENERATOR</text>
<text transform="matrix(0.8829,0.4695,-0.8829,0.4695,434.2,106.4)" font-size="9.4" font-weight="bold" fill="#f2f2f2" >LOADS</text>
<text transform="matrix(0.8829,0.4695,-0.8829,0.4695,399.8,321.7)" font-size="9.4" font-weight="bold" fill="#f2f2f2" >HPS</text>
<text transform="matrix(0.8829,0.4695,-0.8829,0.4695,542.3,397.2)" font-size="9.4" font-weight="bold" fill="#f2f2f2" >MONITOR</text>
<text transform="matrix(0.8829,0.4695,-0.8829,0.4695,738.7,299)" font-size="9.4" font-weight="bold" fill="#f2f2f2" >GRID</text>
<text transform="matrix(0.8829,0.4695,-0.8829,0.4695,607.2,325.2)" font-size="14" font-weight="normal" fill="#f2f2f2" stroke="#f0f0f0" stroke-width="0.25">INTERFACE</text>
</svg>
</body></html>
